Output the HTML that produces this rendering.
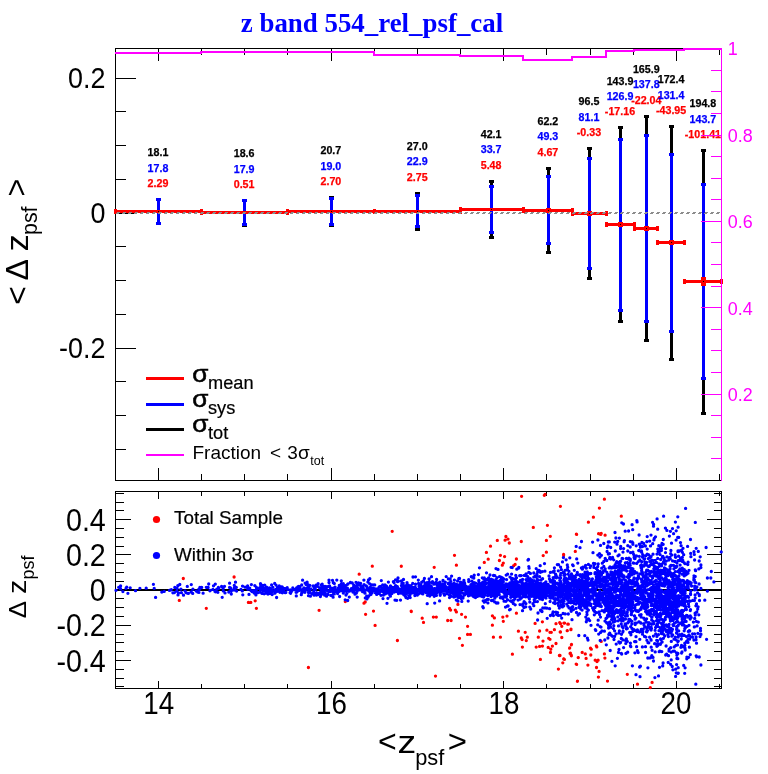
<!DOCTYPE html>
<html lang="en"><head><meta charset="utf-8"><title>z band 554_rel_psf_cal</title>
<style>html,body{margin:0;padding:0;background:#fff}svg{display:block}text{font-family:'Liberation Sans', Arial, Helvetica, sans-serif;}</style></head><body>
<svg width="768" height="774" viewBox="0 0 768 774">
<rect width="768" height="774" fill="#fff"/>
<g shape-rendering="crispEdges">
<rect x="115" y="48" width="607" height="1" fill="#000"/>
<rect x="115" y="480" width="607" height="1" fill="#000"/>
<rect x="115" y="48" width="1" height="433" fill="#000"/>
<rect x="721" y="48" width="1" height="433" fill="#000"/>
<rect x="158" y="48" width="1" height="13" fill="#000"/>
<rect x="158" y="468" width="1" height="13" fill="#000"/>
<rect x="201" y="48" width="1" height="7" fill="#000"/>
<rect x="201" y="474" width="1" height="7" fill="#000"/>
<rect x="244" y="48" width="1" height="7" fill="#000"/>
<rect x="244" y="474" width="1" height="7" fill="#000"/>
<rect x="287" y="48" width="1" height="7" fill="#000"/>
<rect x="287" y="474" width="1" height="7" fill="#000"/>
<rect x="331" y="48" width="1" height="13" fill="#000"/>
<rect x="331" y="468" width="1" height="13" fill="#000"/>
<rect x="374" y="48" width="1" height="7" fill="#000"/>
<rect x="374" y="474" width="1" height="7" fill="#000"/>
<rect x="417" y="48" width="1" height="7" fill="#000"/>
<rect x="417" y="474" width="1" height="7" fill="#000"/>
<rect x="460" y="48" width="1" height="7" fill="#000"/>
<rect x="460" y="474" width="1" height="7" fill="#000"/>
<rect x="503" y="48" width="1" height="13" fill="#000"/>
<rect x="503" y="468" width="1" height="13" fill="#000"/>
<rect x="546" y="48" width="1" height="7" fill="#000"/>
<rect x="546" y="474" width="1" height="7" fill="#000"/>
<rect x="590" y="48" width="1" height="7" fill="#000"/>
<rect x="590" y="474" width="1" height="7" fill="#000"/>
<rect x="633" y="48" width="1" height="7" fill="#000"/>
<rect x="633" y="474" width="1" height="7" fill="#000"/>
<rect x="676" y="48" width="1" height="13" fill="#000"/>
<rect x="676" y="468" width="1" height="13" fill="#000"/>
<rect x="719" y="48" width="1" height="7" fill="#000"/>
<rect x="719" y="474" width="1" height="7" fill="#000"/>
<rect x="115" y="449" width="11" height="1" fill="#000"/>
<rect x="115" y="415" width="11" height="1" fill="#000"/>
<rect x="115" y="381" width="11" height="1" fill="#000"/>
<rect x="115" y="348" width="21" height="1" fill="#000"/>
<rect x="115" y="314" width="11" height="1" fill="#000"/>
<rect x="115" y="280" width="11" height="1" fill="#000"/>
<rect x="115" y="246" width="11" height="1" fill="#000"/>
<rect x="115" y="213" width="21" height="1" fill="#000"/>
<rect x="115" y="179" width="11" height="1" fill="#000"/>
<rect x="115" y="145" width="11" height="1" fill="#000"/>
<rect x="115" y="111" width="11" height="1" fill="#000"/>
<rect x="115" y="78" width="21" height="1" fill="#000"/>
</g>
<g shape-rendering="crispEdges">
<rect x="157" y="199" width="3" height="25" fill="#000"/>
<rect x="156" y="198" width="5" height="3" fill="#000"/>
<rect x="156" y="222" width="5" height="3" fill="#000"/>
<rect x="243" y="200" width="3" height="26" fill="#000"/>
<rect x="242" y="199" width="5" height="3" fill="#000"/>
<rect x="242" y="224" width="5" height="3" fill="#000"/>
<rect x="330" y="197" width="3" height="29" fill="#000"/>
<rect x="329" y="196" width="5" height="3" fill="#000"/>
<rect x="329" y="224" width="5" height="3" fill="#000"/>
<rect x="416" y="193" width="3" height="37" fill="#000"/>
<rect x="415" y="192" width="5" height="3" fill="#000"/>
<rect x="415" y="228" width="5" height="3" fill="#000"/>
<rect x="490" y="181" width="3" height="57" fill="#000"/>
<rect x="489" y="180" width="5" height="3" fill="#000"/>
<rect x="489" y="236" width="5" height="3" fill="#000"/>
<rect x="547" y="168" width="3" height="85" fill="#000"/>
<rect x="546" y="167" width="5" height="3" fill="#000"/>
<rect x="546" y="251" width="5" height="3" fill="#000"/>
<rect x="588" y="148" width="3" height="131" fill="#000"/>
<rect x="587" y="147" width="5" height="3" fill="#000"/>
<rect x="587" y="277" width="5" height="3" fill="#000"/>
<rect x="619" y="127" width="3" height="195" fill="#000"/>
<rect x="618" y="126" width="5" height="3" fill="#000"/>
<rect x="618" y="320" width="5" height="3" fill="#000"/>
<rect x="645" y="116" width="3" height="225" fill="#000"/>
<rect x="644" y="115" width="5" height="3" fill="#000"/>
<rect x="644" y="339" width="5" height="3" fill="#000"/>
<rect x="670" y="126" width="3" height="234" fill="#000"/>
<rect x="669" y="125" width="5" height="3" fill="#000"/>
<rect x="669" y="358" width="5" height="3" fill="#000"/>
<rect x="702" y="150" width="3" height="264" fill="#000"/>
<rect x="701" y="149" width="5" height="3" fill="#000"/>
<rect x="701" y="412" width="5" height="3" fill="#000"/>
<rect x="157" y="199" width="3" height="25" fill="#00f"/>
<rect x="156" y="198" width="5" height="3" fill="#00f"/>
<rect x="156" y="222" width="5" height="3" fill="#00f"/>
<rect x="243" y="200" width="3" height="25" fill="#00f"/>
<rect x="242" y="199" width="5" height="3" fill="#00f"/>
<rect x="242" y="223" width="5" height="3" fill="#00f"/>
<rect x="330" y="198" width="3" height="27" fill="#00f"/>
<rect x="329" y="197" width="5" height="3" fill="#00f"/>
<rect x="329" y="223" width="5" height="3" fill="#00f"/>
<rect x="416" y="195" width="3" height="32" fill="#00f"/>
<rect x="415" y="194" width="5" height="3" fill="#00f"/>
<rect x="415" y="225" width="5" height="3" fill="#00f"/>
<rect x="490" y="186" width="3" height="47" fill="#00f"/>
<rect x="489" y="185" width="5" height="3" fill="#00f"/>
<rect x="489" y="231" width="5" height="3" fill="#00f"/>
<rect x="547" y="176" width="3" height="68" fill="#00f"/>
<rect x="546" y="175" width="5" height="3" fill="#00f"/>
<rect x="546" y="242" width="5" height="3" fill="#00f"/>
<rect x="588" y="158" width="3" height="111" fill="#00f"/>
<rect x="587" y="157" width="5" height="3" fill="#00f"/>
<rect x="587" y="267" width="5" height="3" fill="#00f"/>
<rect x="619" y="139" width="3" height="172" fill="#00f"/>
<rect x="618" y="138" width="5" height="3" fill="#00f"/>
<rect x="618" y="309" width="5" height="3" fill="#00f"/>
<rect x="645" y="135" width="3" height="187" fill="#00f"/>
<rect x="644" y="134" width="5" height="3" fill="#00f"/>
<rect x="644" y="320" width="5" height="3" fill="#00f"/>
<rect x="670" y="154" width="3" height="178" fill="#00f"/>
<rect x="669" y="153" width="5" height="3" fill="#00f"/>
<rect x="669" y="330" width="5" height="3" fill="#00f"/>
<rect x="702" y="184" width="3" height="195" fill="#00f"/>
<rect x="701" y="183" width="5" height="3" fill="#00f"/>
<rect x="701" y="377" width="5" height="3" fill="#00f"/>
<rect x="115" y="210" width="87" height="3" fill="#f00"/>
<rect x="114" y="209" width="3" height="5" fill="#f00"/>
<rect x="200" y="209" width="3" height="5" fill="#f00"/>
<rect x="158" y="211" width="1" height="1" fill="#000"/>
<rect x="201" y="211" width="87" height="3" fill="#f00"/>
<rect x="200" y="210" width="3" height="5" fill="#f00"/>
<rect x="286" y="210" width="3" height="5" fill="#f00"/>
<rect x="244" y="212" width="1" height="1" fill="#000"/>
<rect x="287" y="210" width="88" height="3" fill="#f00"/>
<rect x="286" y="209" width="3" height="5" fill="#f00"/>
<rect x="373" y="209" width="3" height="5" fill="#f00"/>
<rect x="331" y="211" width="1" height="1" fill="#000"/>
<rect x="374" y="210" width="87" height="3" fill="#f00"/>
<rect x="373" y="209" width="3" height="5" fill="#f00"/>
<rect x="459" y="209" width="3" height="5" fill="#f00"/>
<rect x="417" y="211" width="1" height="1" fill="#000"/>
<rect x="460" y="208" width="64" height="3" fill="#f00"/>
<rect x="459" y="207" width="3" height="5" fill="#f00"/>
<rect x="522" y="207" width="3" height="5" fill="#f00"/>
<rect x="491" y="209" width="1" height="1" fill="#000"/>
<rect x="523" y="209" width="50" height="3" fill="#f00"/>
<rect x="522" y="208" width="3" height="5" fill="#f00"/>
<rect x="571" y="208" width="3" height="5" fill="#f00"/>
<rect x="546" y="208" width="5" height="5" fill="#f00"/>
<rect x="548" y="210" width="1" height="1" fill="#000"/>
<rect x="572" y="212" width="35" height="3" fill="#f00"/>
<rect x="571" y="211" width="3" height="5" fill="#f00"/>
<rect x="605" y="211" width="3" height="5" fill="#f00"/>
<rect x="587" y="211" width="5" height="5" fill="#f00"/>
<rect x="589" y="213" width="1" height="1" fill="#000"/>
<rect x="606" y="223" width="29" height="3" fill="#f00"/>
<rect x="605" y="222" width="3" height="5" fill="#f00"/>
<rect x="633" y="222" width="3" height="5" fill="#f00"/>
<rect x="618" y="222" width="5" height="5" fill="#f00"/>
<rect x="620" y="224" width="1" height="1" fill="#000"/>
<rect x="634" y="227" width="24" height="3" fill="#f00"/>
<rect x="633" y="226" width="3" height="5" fill="#f00"/>
<rect x="656" y="226" width="3" height="5" fill="#f00"/>
<rect x="644" y="226" width="5" height="5" fill="#f00"/>
<rect x="646" y="228" width="1" height="1" fill="#000"/>
<rect x="657" y="241" width="28" height="3" fill="#f00"/>
<rect x="656" y="240" width="3" height="5" fill="#f00"/>
<rect x="683" y="240" width="3" height="5" fill="#f00"/>
<rect x="669" y="240" width="5" height="5" fill="#f00"/>
<rect x="671" y="242" width="1" height="1" fill="#000"/>
<rect x="684" y="280" width="38" height="3" fill="#f00"/>
<rect x="683" y="279" width="3" height="5" fill="#f00"/>
<rect x="720" y="279" width="3" height="5" fill="#f00"/>
<rect x="701" y="277" width="5" height="9" fill="#f00"/>
<rect x="703" y="281" width="1" height="1" fill="#000"/>
</g>
<g shape-rendering="crispEdges" fill="#8c8c8c">
<rect x="116" y="213" width="3" height="1"/><rect x="117" y="212" width="3" height="1"/>
<rect x="122" y="213" width="3" height="1"/><rect x="123" y="212" width="3" height="1"/>
<rect x="128" y="213" width="3" height="1"/><rect x="129" y="212" width="3" height="1"/>
<rect x="134" y="213" width="3" height="1"/><rect x="135" y="212" width="3" height="1"/>
<rect x="140" y="213" width="3" height="1"/><rect x="141" y="212" width="3" height="1"/>
<rect x="146" y="213" width="3" height="1"/><rect x="147" y="212" width="3" height="1"/>
<rect x="152" y="213" width="3" height="1"/><rect x="153" y="212" width="3" height="1"/>
<rect x="158" y="213" width="3" height="1"/><rect x="159" y="212" width="3" height="1"/>
<rect x="164" y="213" width="3" height="1"/><rect x="165" y="212" width="3" height="1"/>
<rect x="170" y="213" width="3" height="1"/><rect x="171" y="212" width="3" height="1"/>
<rect x="176" y="213" width="3" height="1"/><rect x="177" y="212" width="3" height="1"/>
<rect x="182" y="213" width="3" height="1"/><rect x="183" y="212" width="3" height="1"/>
<rect x="188" y="213" width="3" height="1"/><rect x="189" y="212" width="3" height="1"/>
<rect x="194" y="213" width="3" height="1"/><rect x="195" y="212" width="3" height="1"/>
<rect x="200" y="213" width="3" height="1"/><rect x="201" y="212" width="3" height="1"/>
<rect x="206" y="213" width="3" height="1"/><rect x="207" y="212" width="3" height="1"/>
<rect x="212" y="213" width="3" height="1"/><rect x="213" y="212" width="3" height="1"/>
<rect x="218" y="213" width="3" height="1"/><rect x="219" y="212" width="3" height="1"/>
<rect x="224" y="213" width="3" height="1"/><rect x="225" y="212" width="3" height="1"/>
<rect x="230" y="213" width="3" height="1"/><rect x="231" y="212" width="3" height="1"/>
<rect x="236" y="213" width="3" height="1"/><rect x="237" y="212" width="3" height="1"/>
<rect x="242" y="213" width="3" height="1"/><rect x="243" y="212" width="3" height="1"/>
<rect x="248" y="213" width="3" height="1"/><rect x="249" y="212" width="3" height="1"/>
<rect x="254" y="213" width="3" height="1"/><rect x="255" y="212" width="3" height="1"/>
<rect x="260" y="213" width="3" height="1"/><rect x="261" y="212" width="3" height="1"/>
<rect x="266" y="213" width="3" height="1"/><rect x="267" y="212" width="3" height="1"/>
<rect x="272" y="213" width="3" height="1"/><rect x="273" y="212" width="3" height="1"/>
<rect x="278" y="213" width="3" height="1"/><rect x="279" y="212" width="3" height="1"/>
<rect x="284" y="213" width="3" height="1"/><rect x="285" y="212" width="3" height="1"/>
<rect x="290" y="213" width="3" height="1"/><rect x="291" y="212" width="3" height="1"/>
<rect x="296" y="213" width="3" height="1"/><rect x="297" y="212" width="3" height="1"/>
<rect x="302" y="213" width="3" height="1"/><rect x="303" y="212" width="3" height="1"/>
<rect x="308" y="213" width="3" height="1"/><rect x="309" y="212" width="3" height="1"/>
<rect x="314" y="213" width="3" height="1"/><rect x="315" y="212" width="3" height="1"/>
<rect x="320" y="213" width="3" height="1"/><rect x="321" y="212" width="3" height="1"/>
<rect x="326" y="213" width="3" height="1"/><rect x="327" y="212" width="3" height="1"/>
<rect x="332" y="213" width="3" height="1"/><rect x="333" y="212" width="3" height="1"/>
<rect x="338" y="213" width="3" height="1"/><rect x="339" y="212" width="3" height="1"/>
<rect x="344" y="213" width="3" height="1"/><rect x="345" y="212" width="3" height="1"/>
<rect x="350" y="213" width="3" height="1"/><rect x="351" y="212" width="3" height="1"/>
<rect x="356" y="213" width="3" height="1"/><rect x="357" y="212" width="3" height="1"/>
<rect x="362" y="213" width="3" height="1"/><rect x="363" y="212" width="3" height="1"/>
<rect x="368" y="213" width="3" height="1"/><rect x="369" y="212" width="3" height="1"/>
<rect x="374" y="213" width="3" height="1"/><rect x="375" y="212" width="3" height="1"/>
<rect x="380" y="213" width="3" height="1"/><rect x="381" y="212" width="3" height="1"/>
<rect x="386" y="213" width="3" height="1"/><rect x="387" y="212" width="3" height="1"/>
<rect x="392" y="213" width="3" height="1"/><rect x="393" y="212" width="3" height="1"/>
<rect x="398" y="213" width="3" height="1"/><rect x="399" y="212" width="3" height="1"/>
<rect x="404" y="213" width="3" height="1"/><rect x="405" y="212" width="3" height="1"/>
<rect x="410" y="213" width="3" height="1"/><rect x="411" y="212" width="3" height="1"/>
<rect x="416" y="213" width="3" height="1"/><rect x="417" y="212" width="3" height="1"/>
<rect x="422" y="213" width="3" height="1"/><rect x="423" y="212" width="3" height="1"/>
<rect x="428" y="213" width="3" height="1"/><rect x="429" y="212" width="3" height="1"/>
<rect x="434" y="213" width="3" height="1"/><rect x="435" y="212" width="3" height="1"/>
<rect x="440" y="213" width="3" height="1"/><rect x="441" y="212" width="3" height="1"/>
<rect x="446" y="213" width="3" height="1"/><rect x="447" y="212" width="3" height="1"/>
<rect x="452" y="213" width="3" height="1"/><rect x="453" y="212" width="3" height="1"/>
<rect x="458" y="213" width="3" height="1"/><rect x="459" y="212" width="3" height="1"/>
<rect x="464" y="213" width="3" height="1"/><rect x="465" y="212" width="3" height="1"/>
<rect x="470" y="213" width="3" height="1"/><rect x="471" y="212" width="3" height="1"/>
<rect x="476" y="213" width="3" height="1"/><rect x="477" y="212" width="3" height="1"/>
<rect x="482" y="213" width="3" height="1"/><rect x="483" y="212" width="3" height="1"/>
<rect x="488" y="213" width="3" height="1"/><rect x="489" y="212" width="3" height="1"/>
<rect x="494" y="213" width="3" height="1"/><rect x="495" y="212" width="3" height="1"/>
<rect x="500" y="213" width="3" height="1"/><rect x="501" y="212" width="3" height="1"/>
<rect x="506" y="213" width="3" height="1"/><rect x="507" y="212" width="3" height="1"/>
<rect x="512" y="213" width="3" height="1"/><rect x="513" y="212" width="3" height="1"/>
<rect x="518" y="213" width="3" height="1"/><rect x="519" y="212" width="3" height="1"/>
<rect x="524" y="213" width="3" height="1"/><rect x="525" y="212" width="3" height="1"/>
<rect x="530" y="213" width="3" height="1"/><rect x="531" y="212" width="3" height="1"/>
<rect x="536" y="213" width="3" height="1"/><rect x="537" y="212" width="3" height="1"/>
<rect x="542" y="213" width="3" height="1"/><rect x="543" y="212" width="3" height="1"/>
<rect x="548" y="213" width="3" height="1"/><rect x="549" y="212" width="3" height="1"/>
<rect x="554" y="213" width="3" height="1"/><rect x="555" y="212" width="3" height="1"/>
<rect x="560" y="213" width="3" height="1"/><rect x="561" y="212" width="3" height="1"/>
<rect x="566" y="213" width="3" height="1"/><rect x="567" y="212" width="3" height="1"/>
<rect x="572" y="213" width="3" height="1"/><rect x="573" y="212" width="3" height="1"/>
<rect x="578" y="213" width="3" height="1"/><rect x="579" y="212" width="3" height="1"/>
<rect x="584" y="213" width="3" height="1"/><rect x="585" y="212" width="3" height="1"/>
<rect x="590" y="213" width="3" height="1"/><rect x="591" y="212" width="3" height="1"/>
<rect x="596" y="213" width="3" height="1"/><rect x="597" y="212" width="3" height="1"/>
<rect x="602" y="213" width="3" height="1"/><rect x="603" y="212" width="3" height="1"/>
<rect x="608" y="213" width="3" height="1"/><rect x="609" y="212" width="3" height="1"/>
<rect x="614" y="213" width="3" height="1"/><rect x="615" y="212" width="3" height="1"/>
<rect x="620" y="213" width="3" height="1"/><rect x="621" y="212" width="3" height="1"/>
<rect x="626" y="213" width="3" height="1"/><rect x="627" y="212" width="3" height="1"/>
<rect x="632" y="213" width="3" height="1"/><rect x="633" y="212" width="3" height="1"/>
<rect x="638" y="213" width="3" height="1"/><rect x="639" y="212" width="3" height="1"/>
<rect x="644" y="213" width="3" height="1"/><rect x="645" y="212" width="3" height="1"/>
<rect x="650" y="213" width="3" height="1"/><rect x="651" y="212" width="3" height="1"/>
<rect x="656" y="213" width="3" height="1"/><rect x="657" y="212" width="3" height="1"/>
<rect x="662" y="213" width="3" height="1"/><rect x="663" y="212" width="3" height="1"/>
<rect x="668" y="213" width="3" height="1"/><rect x="669" y="212" width="3" height="1"/>
<rect x="674" y="213" width="3" height="1"/><rect x="675" y="212" width="3" height="1"/>
<rect x="680" y="213" width="3" height="1"/><rect x="681" y="212" width="3" height="1"/>
<rect x="686" y="213" width="3" height="1"/><rect x="687" y="212" width="3" height="1"/>
<rect x="692" y="213" width="3" height="1"/><rect x="693" y="212" width="3" height="1"/>
<rect x="698" y="213" width="3" height="1"/><rect x="699" y="212" width="3" height="1"/>
<rect x="704" y="213" width="3" height="1"/><rect x="705" y="212" width="3" height="1"/>
<rect x="710" y="213" width="3" height="1"/><rect x="711" y="212" width="3" height="1"/>
<rect x="716" y="213" width="3" height="1"/><rect x="717" y="212" width="3" height="1"/>
</g>
<path d="M115,53 L201,53 L201,52 L287,52 L287,52 L374,52 L374,55 L460,55 L460,56 L523,56 L523,60 L572,60 L572,56.5 L606,56.5 L606,50.5 L634,50.5 L634,49.5 L657,49.5 L657,49.5 L684,49.5 L684,49 L721,49" fill="none" stroke="#f0f" stroke-width="2" stroke-linejoin="miter" shape-rendering="crispEdges"/>
<g font-size="10.7" font-weight="bold" text-anchor="middle" stroke-width="0.25">
<text x="158.0" y="156.3" fill="#000" stroke="#000">18.1</text>
<text x="158.0" y="171.7" fill="#00f" stroke="#00f">17.8</text>
<text x="158.0" y="187.1" fill="#f00" stroke="#f00">2.29</text>
<text x="244.1" y="157.2" fill="#000" stroke="#000">18.6</text>
<text x="244.1" y="172.6" fill="#00f" stroke="#00f">17.9</text>
<text x="244.1" y="188.0" fill="#f00" stroke="#f00">0.51</text>
<text x="330.9" y="154.3" fill="#000" stroke="#000">20.7</text>
<text x="330.9" y="169.7" fill="#00f" stroke="#00f">19.0</text>
<text x="330.9" y="185.1" fill="#f00" stroke="#f00">2.70</text>
<text x="417.2" y="150.0" fill="#000" stroke="#000">27.0</text>
<text x="417.2" y="165.4" fill="#00f" stroke="#00f">22.9</text>
<text x="417.2" y="180.8" fill="#f00" stroke="#f00">2.75</text>
<text x="491.1" y="138.0" fill="#000" stroke="#000">42.1</text>
<text x="491.1" y="153.4" fill="#00f" stroke="#00f">33.7</text>
<text x="491.1" y="168.8" fill="#f00" stroke="#f00">5.48</text>
<text x="547.9" y="125.0" fill="#000" stroke="#000">62.2</text>
<text x="547.9" y="140.4" fill="#00f" stroke="#00f">49.3</text>
<text x="547.9" y="155.8" fill="#f00" stroke="#f00">4.67</text>
<text x="589.0" y="105.2" fill="#000" stroke="#000">96.5</text>
<text x="589.0" y="120.6" fill="#00f" stroke="#00f">81.1</text>
<text x="589.0" y="136.0" fill="#f00" stroke="#f00">-0.33</text>
<text x="620.0" y="84.6" fill="#000" stroke="#000">143.9</text>
<text x="620.0" y="100.0" fill="#00f" stroke="#00f">126.9</text>
<text x="620.0" y="115.4" fill="#f00" stroke="#f00">-17.16</text>
<text x="646.3" y="73.0" fill="#000" stroke="#000">165.9</text>
<text x="646.3" y="88.4" fill="#00f" stroke="#00f">137.8</text>
<text x="646.3" y="103.8" fill="#f00" stroke="#f00">-22.04</text>
<text x="671.1" y="83.4" fill="#000" stroke="#000">172.4</text>
<text x="671.1" y="98.8" fill="#00f" stroke="#00f">131.4</text>
<text x="671.1" y="114.2" fill="#f00" stroke="#f00">-43.95</text>
<text x="702.9" y="107.1" fill="#000" stroke="#000">194.8</text>
<text x="702.9" y="122.5" fill="#00f" stroke="#00f">143.7</text>
<text x="702.9" y="137.9" fill="#f00" stroke="#f00">-101.41</text>
</g>
<g shape-rendering="crispEdges">
<rect x="721" y="48" width="1" height="433" fill="#f0f"/>
<rect x="711" y="458" width="11" height="1" fill="#f0f"/>
<rect x="711" y="437" width="11" height="1" fill="#f0f"/>
<rect x="711" y="415" width="11" height="1" fill="#f0f"/>
<rect x="701" y="394" width="21" height="1" fill="#f0f"/>
<rect x="711" y="372" width="11" height="1" fill="#f0f"/>
<rect x="711" y="350" width="11" height="1" fill="#f0f"/>
<rect x="711" y="329" width="11" height="1" fill="#f0f"/>
<rect x="701" y="307" width="21" height="1" fill="#f0f"/>
<rect x="711" y="286" width="11" height="1" fill="#f0f"/>
<rect x="711" y="264" width="11" height="1" fill="#f0f"/>
<rect x="711" y="242" width="11" height="1" fill="#f0f"/>
<rect x="701" y="221" width="21" height="1" fill="#f0f"/>
<rect x="711" y="199" width="11" height="1" fill="#f0f"/>
<rect x="711" y="178" width="11" height="1" fill="#f0f"/>
<rect x="711" y="156" width="11" height="1" fill="#f0f"/>
<rect x="701" y="135" width="21" height="1" fill="#f0f"/>
<rect x="711" y="113" width="11" height="1" fill="#f0f"/>
<rect x="711" y="91" width="11" height="1" fill="#f0f"/>
<rect x="711" y="70" width="11" height="1" fill="#f0f"/>
<rect x="701" y="48" width="21" height="1" fill="#f0f"/>
</g>
<text transform="translate(727.8,55.4) scale(0.95,1)" font-size="18.9" fill="#f0f">1</text>
<text transform="translate(727.8,142.3) scale(0.95,1)" font-size="18.9" fill="#f0f">0.8</text>
<text transform="translate(727.8,228.2) scale(0.95,1)" font-size="18.9" fill="#f0f">0.6</text>
<text transform="translate(727.8,314.6) scale(0.95,1)" font-size="18.9" fill="#f0f">0.4</text>
<text transform="translate(727.8,401.0) scale(0.95,1)" font-size="18.9" fill="#f0f">0.2</text>
<text transform="translate(105.4,88.4) scale(0.914,1)" font-size="29.4" text-anchor="end">0.2</text>
<text transform="translate(105.4,223.4) scale(0.914,1)" font-size="29.4" text-anchor="end">0</text>
<text transform="translate(105.4,358.4) scale(0.914,1)" font-size="29.4" text-anchor="end">-0.2</text>
<text x="372" y="31.5" font-size="26.9" font-weight="bold" fill="#00f" text-anchor="middle" style="font-family:'Liberation Serif', 'Times New Roman', serif">z band 554_rel_psf_cal</text>
<g transform="translate(28.4,305) rotate(-90)">
<text x="0.3" y="-0.6" font-size="32">&lt;</text>
<text x="24.5" y="0.0" font-size="32">Δ</text>
<text transform="translate(53.6,0.0) scale(1.08,1)" font-size="32">z</text>
<text x="70.0" y="8.9" font-size="21.4">psf</text>
<text x="108.6" y="-1.4" font-size="30.5">&gt;</text>
</g>
<g shape-rendering="crispEdges">
<rect x="146" y="377" width="38" height="3" fill="#f00"/>
<rect x="146" y="403" width="38" height="3" fill="#00f"/>
<rect x="146" y="428" width="38" height="3" fill="#000"/>
<rect x="146" y="454" width="38" height="2" fill="#f0f"/>
</g>
<text transform="translate(192.2,381.7) scale(1.08,1)" font-size="24.2" stroke="#000" stroke-width="0.55">σ</text>
<text x="208.0" y="388.8" font-size="18.2" stroke="#000" stroke-width="0.2">mean</text>
<text transform="translate(192.2,406.7) scale(1.08,1)" font-size="24.2" stroke="#000" stroke-width="0.55">σ</text>
<text x="208.0" y="413.8" font-size="18.2" stroke="#000" stroke-width="0.2">sys</text>
<text transform="translate(192.2,431.6) scale(1.08,1)" font-size="24.2" stroke="#000" stroke-width="0.55">σ</text>
<text x="208.0" y="438.7" font-size="18.2" stroke="#000" stroke-width="0.2">tot</text>
<text x="192.5" y="458.7" font-size="19">Fraction<tspan dx="8.9">&lt;</tspan><tspan dx="6.2">3σ</tspan></text>
<text x="310.3" y="465.2" font-size="12.5">tot</text>
<g shape-rendering="crispEdges">
<rect x="115" y="491" width="607" height="1" fill="#000"/>
<rect x="115" y="688" width="607" height="1" fill="#000"/>
<rect x="115" y="491" width="1" height="198" fill="#000"/>
<rect x="721" y="491" width="1" height="198" fill="#000"/>
<rect x="158" y="491" width="1" height="8" fill="#000"/>
<rect x="158" y="681" width="1" height="8" fill="#000"/>
<rect x="201" y="491" width="1" height="5" fill="#000"/>
<rect x="201" y="684" width="1" height="5" fill="#000"/>
<rect x="244" y="491" width="1" height="5" fill="#000"/>
<rect x="244" y="684" width="1" height="5" fill="#000"/>
<rect x="287" y="491" width="1" height="5" fill="#000"/>
<rect x="287" y="684" width="1" height="5" fill="#000"/>
<rect x="331" y="491" width="1" height="8" fill="#000"/>
<rect x="331" y="681" width="1" height="8" fill="#000"/>
<rect x="374" y="491" width="1" height="5" fill="#000"/>
<rect x="374" y="684" width="1" height="5" fill="#000"/>
<rect x="417" y="491" width="1" height="5" fill="#000"/>
<rect x="417" y="684" width="1" height="5" fill="#000"/>
<rect x="460" y="491" width="1" height="5" fill="#000"/>
<rect x="460" y="684" width="1" height="5" fill="#000"/>
<rect x="503" y="491" width="1" height="8" fill="#000"/>
<rect x="503" y="681" width="1" height="8" fill="#000"/>
<rect x="546" y="491" width="1" height="5" fill="#000"/>
<rect x="546" y="684" width="1" height="5" fill="#000"/>
<rect x="590" y="491" width="1" height="5" fill="#000"/>
<rect x="590" y="684" width="1" height="5" fill="#000"/>
<rect x="633" y="491" width="1" height="5" fill="#000"/>
<rect x="633" y="684" width="1" height="5" fill="#000"/>
<rect x="676" y="491" width="1" height="8" fill="#000"/>
<rect x="676" y="681" width="1" height="8" fill="#000"/>
<rect x="719" y="491" width="1" height="5" fill="#000"/>
<rect x="719" y="684" width="1" height="5" fill="#000"/>
<rect x="115" y="686" width="9" height="1" fill="#000"/>
<rect x="714" y="686" width="8" height="1" fill="#000"/>
<rect x="115" y="678" width="9" height="1" fill="#000"/>
<rect x="714" y="678" width="8" height="1" fill="#000"/>
<rect x="115" y="669" width="9" height="1" fill="#000"/>
<rect x="714" y="669" width="8" height="1" fill="#000"/>
<rect x="115" y="660" width="16" height="1" fill="#000"/>
<rect x="707" y="660" width="15" height="1" fill="#000"/>
<rect x="115" y="651" width="9" height="1" fill="#000"/>
<rect x="714" y="651" width="8" height="1" fill="#000"/>
<rect x="115" y="642" width="9" height="1" fill="#000"/>
<rect x="714" y="642" width="8" height="1" fill="#000"/>
<rect x="115" y="634" width="9" height="1" fill="#000"/>
<rect x="714" y="634" width="8" height="1" fill="#000"/>
<rect x="115" y="625" width="16" height="1" fill="#000"/>
<rect x="707" y="625" width="15" height="1" fill="#000"/>
<rect x="115" y="616" width="9" height="1" fill="#000"/>
<rect x="714" y="616" width="8" height="1" fill="#000"/>
<rect x="115" y="607" width="9" height="1" fill="#000"/>
<rect x="714" y="607" width="8" height="1" fill="#000"/>
<rect x="115" y="598" width="9" height="1" fill="#000"/>
<rect x="714" y="598" width="8" height="1" fill="#000"/>
<rect x="115" y="590" width="16" height="1" fill="#000"/>
<rect x="707" y="590" width="15" height="1" fill="#000"/>
<rect x="115" y="581" width="9" height="1" fill="#000"/>
<rect x="714" y="581" width="8" height="1" fill="#000"/>
<rect x="115" y="572" width="9" height="1" fill="#000"/>
<rect x="714" y="572" width="8" height="1" fill="#000"/>
<rect x="115" y="563" width="9" height="1" fill="#000"/>
<rect x="714" y="563" width="8" height="1" fill="#000"/>
<rect x="115" y="554" width="16" height="1" fill="#000"/>
<rect x="707" y="554" width="15" height="1" fill="#000"/>
<rect x="115" y="546" width="9" height="1" fill="#000"/>
<rect x="714" y="546" width="8" height="1" fill="#000"/>
<rect x="115" y="537" width="9" height="1" fill="#000"/>
<rect x="714" y="537" width="8" height="1" fill="#000"/>
<rect x="115" y="528" width="9" height="1" fill="#000"/>
<rect x="714" y="528" width="8" height="1" fill="#000"/>
<rect x="115" y="519" width="16" height="1" fill="#000"/>
<rect x="707" y="519" width="15" height="1" fill="#000"/>
<rect x="115" y="510" width="9" height="1" fill="#000"/>
<rect x="714" y="510" width="8" height="1" fill="#000"/>
<rect x="115" y="502" width="9" height="1" fill="#000"/>
<rect x="714" y="502" width="8" height="1" fill="#000"/>
<rect x="115" y="493" width="9" height="1" fill="#000"/>
<rect x="714" y="493" width="8" height="1" fill="#000"/>
<rect x="115" y="589" width="607" height="2" fill="#000"/>
</g>
<path d="M183.3 578.5h0M179.3 600.4h0M206.3 608.3h0M234.1 577.0h0M248.4 602.4h0M250.8 602.4h0M255.2 600.8h0M256.4 608.3h0M308.4 667.5h0M319.1 610.3h0M345.3 601.6h0M359.2 574.2h0M364.0 603.2h0M365.2 602.0h0M365.6 614.3h0M372.3 566.2h0M373.5 611.1h0M375.1 625.4h0M392.2 531.3h0M397.4 640.5h0M401.3 566.2h0M411.3 611.5h0M401.3 566.3h0M434.2 567.3h0M454.5 555.3h0M456.4 565.2h0M411.2 611.1h0M422.2 618.2h0M423.5 622.4h0M433.4 617.1h0M436.3 617.1h0M447.7 620.5h0M451.1 620.5h0M449.6 608.5h0M450.6 610.1h0M455.3 610.1h0M456.4 611.9h0M457.9 604.4h0M461.6 614.3h0M465.5 617.1h0M467.6 626.3h0M467.6 634.4h0M470.4 634.4h0M459.5 638.3h0M462.4 645.3h0M435.5 676.1h0M486.4 552.4h0M490.5 546.2h0M488.2 559.2h0M484.3 562.4h0M497.3 540.4h0M500.4 555.3h0M504.6 556.6h0M499.4 560.5h0M503.3 563.1h0M502.3 565.2h0M505.9 536.5h0M505.1 540.2h0M508.0 539.1h0M509.3 543.0h0M513.7 565.7h0M515.1 564.4h0M516.4 559.0h0M521.3 541.5h0M521.6 496.3h0M533.3 527.4h0M544.3 495.3h0M545.1 494.3h0M547.4 525.3h0M550.3 536.3h0M546.4 540.4h0M546.4 552.2h0M543.2 555.6h0M560.4 506.3h0M563.6 554.5h0M563.6 555.6h0M576.6 534.4h0M575.3 551.4h0M492.4 615.8h0M494.4 617.9h0M492.4 625.2h0M493.4 637.2h0M500.4 637.2h0M502.8 617.1h0M503.3 621.3h0M507.0 616.1h0M516.4 613.2h0M512.4 654.2h0M518.4 631.2h0M521.3 638.0h0M522.1 639.6h0M525.2 632.3h0M527.3 637.2h0M526.3 640.6h0M522.4 647.1h0M535.1 623.4h0M539.6 631.0h0M538.3 637.2h0M536.2 647.1h0M539.6 646.4h0M542.4 646.1h0M540.4 659.4h0M542.4 621.8h0M546.9 630.2h0M550.0 632.3h0M551.3 632.3h0M548.7 638.3h0M550.0 639.3h0M543.0 641.1h0M548.2 647.4h0M552.4 646.1h0M550.8 649.2h0M550.5 652.4h0M554.4 629.7h0M556.0 623.7h0M559.7 622.6h0M561.8 626.3h0M564.6 623.1h0M560.2 632.0h0M561.8 637.5h0M556.0 643.5h0M568.3 624.2h0M570.9 629.7h0M567.2 630.7h0M571.4 644.8h0M569.6 648.2h0M570.1 653.4h0M571.4 655.8h0M559.4 655.5h0M563.8 658.9h0M562.8 662.8h0M558.4 669.1h0M578.2 657.6h0M576.6 664.4h0M577.4 681.3h0M604.4 499.2h0M599.4 508.1h0M593.4 517.2h0M588.4 522.2h0M621.3 516.2h0M576.4 534.2h0M598.6 533.7h0M600.7 534.4h0M601.2 533.4h0M605.1 535.2h0M560.5 623.7h0M563.9 623.1h0M567.8 624.2h0M560.5 632.0h0M567.3 630.7h0M571.0 629.1h0M571.5 644.5h0M569.7 647.9h0M570.4 653.1h0M571.2 655.0h0M560.0 655.5h0M563.7 658.9h0M564.4 659.4h0M578.3 657.6h0M582.2 652.4h0M585.3 653.9h0M586.1 658.4h0M576.2 664.1h0M587.9 665.1h0M590.5 648.2h0M591.3 649.2h0M590.8 655.0h0M596.3 645.8h0M596.8 646.9h0M601.2 641.4h0M595.2 660.2h0M597.0 661.5h0M598.1 660.2h0M604.4 653.9h0M604.9 658.1h0M596.5 667.5h0M599.1 671.4h0M598.4 677.1h0M577.5 681.1h0M607.5 681.1h0M627.3 674.3h0M637.5 684.2h0M652.1 682.4h0M650.3 687.6h0" fill="none" stroke="#f00" stroke-width="3.3" stroke-linecap="round"/>
<path d="M139.9 588.3h0M126.7 587.2h0M154.2 588.3h0M130.2 587.8h0M153.4 584.3h0M118.7 587.3h0M146.2 588.2h0M120.6 586.0h0M126.0 588.3h0M155.6 597.4h0M122.9 591.6h0M135.5 590.7h0M120.6 588.9h0M127.9 593.3h0M174.4 592.6h0M185.0 590.8h0M191.1 592.0h0M186.4 592.8h0M187.3 586.4h0M192.9 589.2h0M170.8 589.9h0M180.9 589.1h0M199.3 589.6h0M161.8 592.1h0M181.4 592.7h0M169.5 590.4h0M201.5 587.7h0M185.9 592.6h0M191.3 584.6h0M199.9 587.5h0M178.0 594.9h0M201.7 587.4h0M198.9 589.1h0M172.9 592.8h0M164.2 591.4h0M176.8 591.2h0M177.8 585.7h0M196.2 591.1h0M197.7 592.0h0M171.3 589.6h0M179.8 584.5h0M177.1 588.5h0M198.9 592.4h0M178.5 593.0h0M174.8 587.5h0M192.7 593.4h0M183.5 595.2h0M188.3 593.4h0M215.3 584.1h0M242.5 586.1h0M228.8 592.1h0M225.0 592.9h0M223.1 588.5h0M215.0 591.4h0M234.7 588.7h0M235.5 582.2h0M210.2 590.5h0M223.3 590.9h0M234.2 590.0h0M231.3 590.0h0M206.3 587.3h0M215.5 591.8h0M229.8 591.3h0M222.2 597.3h0M240.9 589.4h0M231.3 594.1h0M212.9 589.4h0M242.3 590.9h0M224.5 586.3h0M203.1 593.2h0M218.4 587.4h0M213.5 585.8h0M229.6 583.2h0M234.2 588.1h0M223.3 587.4h0M242.8 594.8h0M208.7 584.0h0M234.3 585.5h0M209.9 590.8h0M230.5 588.0h0M229.6 587.5h0M236.3 587.4h0M221.6 586.5h0M217.9 592.3h0M231.1 591.3h0M232.2 590.2h0M208.1 587.5h0M236.6 591.1h0M216.8 589.2h0M218.8 588.3h0M273.5 591.1h0M263.5 588.6h0M257.9 592.7h0M282.7 591.5h0M252.0 591.5h0M283.6 589.7h0M274.7 583.5h0M282.4 592.8h0M268.7 592.9h0M266.6 587.2h0M253.0 590.7h0M278.0 591.0h0M285.3 592.7h0M268.0 594.0h0M274.9 589.9h0M281.4 587.0h0M264.1 588.5h0M287.2 587.7h0M254.2 593.1h0M260.6 587.1h0M274.9 593.2h0M263.4 590.5h0M254.8 585.6h0M276.0 585.1h0M285.0 588.6h0M279.2 585.9h0M262.6 586.5h0M260.6 584.7h0M279.8 592.3h0M265.4 588.8h0M262.2 593.1h0M261.8 587.5h0M284.0 591.2h0M264.7 585.1h0M247.3 587.5h0M270.2 593.4h0M276.6 597.5h0M255.9 594.9h0M259.0 588.5h0M265.2 589.1h0M268.8 588.9h0M251.1 590.7h0M280.7 587.3h0M262.7 585.3h0M259.5 588.0h0M282.6 590.3h0M264.4 588.8h0M272.9 587.3h0M277.5 587.7h0M266.5 591.9h0M279.6 591.7h0M287.6 589.5h0M272.5 590.7h0M257.0 592.4h0M247.8 589.3h0M276.3 589.1h0M259.8 592.1h0M254.6 590.7h0M276.7 591.5h0M266.4 589.3h0M264.2 593.8h0M268.0 589.3h0M279.2 588.0h0M267.6 592.1h0M245.0 587.2h0M266.0 593.1h0M249.0 594.4h0M285.8 592.5h0M269.3 587.9h0M256.4 587.5h0M282.3 590.1h0M251.4 584.6h0M282.1 586.8h0M261.1 585.1h0M270.3 591.1h0M260.5 583.6h0M269.0 592.1h0M272.0 591.6h0M256.5 589.4h0M281.3 588.8h0M279.5 589.6h0M261.6 587.7h0M260.7 590.2h0M249.7 588.7h0M264.4 588.8h0M247.6 585.9h0M270.6 589.1h0M271.5 592.5h0M265.1 590.9h0M262.0 593.4h0M270.7 589.0h0M278.9 589.7h0M271.6 585.0h0M280.3 587.5h0M249.7 588.1h0M261.5 587.1h0M270.9 591.6h0M266.6 589.2h0M283.8 588.5h0M272.1 594.6h0M316.0 585.2h0M301.3 594.7h0M328.7 591.7h0M314.7 594.7h0M294.3 589.4h0M325.0 586.3h0M306.1 584.6h0M316.7 592.9h0M326.8 586.6h0M296.8 589.0h0M329.9 589.8h0M330.6 591.3h0M309.8 585.3h0M297.4 587.3h0M296.3 595.9h0M301.7 585.0h0M321.9 587.1h0M324.1 589.6h0M329.3 591.0h0M324.2 591.8h0M323.0 586.4h0M310.2 592.5h0M300.0 588.0h0M308.5 592.5h0M304.9 592.3h0M323.3 589.4h0M318.2 586.6h0M298.1 586.6h0M301.9 590.7h0M329.0 582.5h0M321.3 585.0h0M310.8 588.8h0M304.5 589.0h0M296.1 592.3h0M292.7 589.8h0M315.4 586.9h0M315.4 589.4h0M296.8 587.6h0M303.1 589.1h0M297.1 591.3h0M307.9 584.7h0M323.2 590.3h0M299.4 589.5h0M321.2 589.6h0M298.6 589.4h0M325.1 593.1h0M310.4 596.2h0M321.5 592.9h0M304.8 591.3h0M309.5 591.4h0M312.8 593.9h0M313.5 592.4h0M323.2 593.9h0M321.3 592.9h0M292.8 588.0h0M329.0 580.1h0M309.4 585.7h0M319.7 588.2h0M325.3 589.3h0M314.3 588.1h0M307.1 582.2h0M302.8 592.1h0M316.4 593.0h0M291.4 591.5h0M298.9 586.5h0M310.6 589.2h0M320.4 596.6h0M302.4 591.6h0M327.9 586.6h0M329.5 585.8h0M327.9 594.5h0M304.0 591.6h0M290.1 592.7h0M308.4 587.3h0M305.8 589.7h0M330.9 595.4h0M305.1 583.1h0M299.5 590.3h0M318.0 594.5h0M302.6 580.2h0M312.3 593.9h0M298.1 588.8h0M307.8 589.0h0M303.9 587.9h0M308.5 595.7h0M326.2 589.2h0M302.1 590.6h0M306.2 589.9h0M330.4 587.6h0M313.1 586.0h0M296.1 588.9h0M290.2 589.8h0M306.8 588.2h0M323.0 592.3h0M316.5 595.0h0M324.1 590.8h0M325.1 588.7h0M314.1 595.2h0M318.1 583.6h0M294.4 589.6h0M324.7 595.2h0M326.3 589.1h0M307.9 588.2h0M321.4 590.3h0M304.4 589.6h0M296.8 592.0h0M321.0 594.5h0M296.4 588.4h0M290.6 593.3h0M327.5 590.8h0M322.2 584.2h0M314.0 592.9h0M326.5 596.2h0M313.8 590.4h0M301.7 593.1h0M326.3 590.0h0M304.5 588.4h0M320.4 592.5h0M319.1 593.2h0M297.7 591.0h0M352.9 592.0h0M367.9 582.1h0M340.6 590.0h0M354.4 590.0h0M370.9 594.4h0M356.4 593.0h0M346.4 588.0h0M353.7 585.1h0M359.7 585.1h0M335.1 587.1h0M337.6 593.1h0M345.2 599.8h0M373.1 588.5h0M335.8 590.0h0M369.4 588.5h0M338.2 591.6h0M354.8 586.9h0M369.4 591.2h0M349.4 591.2h0M342.5 583.6h0M336.8 580.1h0M362.4 586.4h0M337.9 591.0h0M339.4 591.3h0M363.9 580.1h0M346.1 589.3h0M369.8 583.9h0M345.2 587.2h0M368.5 588.7h0M333.3 582.7h0M347.7 600.5h0M341.4 583.6h0M371.7 589.2h0M333.2 588.1h0M345.9 590.3h0M349.3 597.1h0M348.6 590.2h0M360.9 588.9h0M365.0 593.2h0M358.6 583.0h0M366.9 598.9h0M337.9 591.7h0M357.2 597.1h0M354.8 592.7h0M362.9 590.5h0M354.4 586.1h0M356.0 582.3h0M351.3 588.7h0M368.7 590.0h0M359.8 589.8h0M343.3 590.6h0M368.5 579.9h0M366.9 587.0h0M361.3 586.7h0M370.8 594.1h0M333.4 591.4h0M334.7 589.2h0M334.3 583.6h0M333.7 590.5h0M356.9 587.7h0M369.6 588.3h0M364.1 584.7h0M338.7 588.2h0M333.5 594.0h0M344.1 588.2h0M365.9 589.9h0M372.1 592.1h0M358.0 588.2h0M367.6 590.0h0M357.7 590.2h0M341.6 588.6h0M339.3 585.3h0M351.0 590.0h0M359.1 589.5h0M341.2 586.5h0M371.9 589.1h0M371.0 590.8h0M334.9 587.8h0M344.1 588.8h0M347.2 589.3h0M335.7 591.4h0M352.2 582.9h0M370.0 590.4h0M332.5 580.3h0M363.4 588.9h0M363.2 590.8h0M346.9 593.3h0M347.1 590.6h0M352.5 590.7h0M345.2 590.9h0M345.5 588.5h0M347.4 589.9h0M367.9 589.3h0M371.9 592.9h0M353.0 589.2h0M362.7 587.4h0M360.6 589.9h0M372.1 591.3h0M342.6 585.2h0M350.4 582.5h0M331.5 589.8h0M340.8 589.4h0M370.2 587.4h0M362.4 589.2h0M362.6 591.7h0M365.3 597.9h0M370.7 587.9h0M353.3 587.5h0M356.1 588.4h0M339.6 596.5h0M368.0 597.3h0M333.9 588.6h0M341.5 589.9h0M369.8 578.7h0M360.6 583.5h0M350.6 590.0h0M351.5 589.2h0M348.0 584.0h0M353.8 589.6h0M343.3 593.0h0M333.1 597.2h0M337.6 593.6h0M344.4 588.5h0M361.6 590.0h0M374.2 589.6h0M357.6 589.6h0M343.3 583.7h0M352.4 588.9h0M345.4 585.7h0M334.3 593.9h0M345.3 587.3h0M333.0 591.9h0M356.9 585.2h0M357.2 587.8h0M340.7 590.5h0M347.5 584.3h0M366.3 585.8h0M370.3 593.1h0M364.1 591.3h0M342.8 591.2h0M363.2 587.3h0M355.0 594.2h0M339.7 589.2h0M347.4 588.1h0M366.7 596.1h0M357.4 591.0h0M334.2 583.4h0M344.8 588.3h0M338.4 587.8h0M346.0 595.0h0M368.8 595.9h0M340.1 590.8h0M336.8 590.0h0M346.4 589.3h0M364.5 592.4h0M341.3 580.8h0M373.0 585.0h0M341.7 586.5h0M357.3 585.0h0M371.3 584.8h0M380.6 587.0h0M405.6 592.0h0M392.7 587.3h0M401.4 585.6h0M391.9 590.7h0M396.8 586.9h0M408.4 585.1h0M388.3 592.9h0M383.0 598.6h0M406.7 588.7h0M417.3 589.7h0M379.5 591.8h0M386.0 593.1h0M409.5 589.4h0M395.0 600.1h0M387.9 598.3h0M406.0 586.5h0M398.6 589.1h0M401.5 589.3h0M415.1 586.9h0M414.7 590.9h0M414.5 587.7h0M407.0 582.6h0M416.7 589.8h0M415.2 590.3h0M409.7 586.8h0M386.5 586.2h0M393.4 587.9h0M382.5 588.4h0M393.4 581.7h0M412.9 592.4h0M385.1 593.9h0M410.0 588.1h0M376.7 594.4h0M388.8 588.7h0M405.7 587.9h0M389.1 589.8h0M383.1 591.8h0M412.2 592.9h0M385.1 593.8h0M385.5 588.9h0M412.8 588.0h0M407.0 584.7h0M404.5 585.9h0M385.7 589.6h0M388.4 582.1h0M390.4 596.2h0M406.4 591.0h0M385.3 587.4h0M406.7 590.6h0M382.9 587.7h0M406.9 584.7h0M414.8 591.3h0M414.9 587.2h0M413.4 587.6h0M410.2 597.6h0M398.0 577.9h0M385.7 588.8h0M399.0 591.8h0M395.5 579.9h0M383.5 595.1h0M415.6 584.2h0M381.4 591.0h0M415.3 590.9h0M397.2 589.0h0M391.8 590.7h0M390.5 585.8h0M393.5 587.6h0M415.5 587.9h0M403.8 594.8h0M407.6 592.4h0M389.8 594.9h0M391.4 592.3h0M399.3 591.4h0M414.7 590.2h0M378.4 592.0h0M401.8 593.0h0M403.5 585.8h0M378.8 592.3h0M379.2 593.6h0M385.5 591.3h0M409.0 588.1h0M398.4 581.2h0M405.0 591.6h0M405.7 590.7h0M393.0 588.9h0M377.0 593.8h0M404.4 590.6h0M378.8 591.5h0M403.5 579.4h0M390.2 588.5h0M385.7 589.4h0M393.6 589.3h0M394.0 589.5h0M406.1 597.7h0M404.5 588.0h0M401.4 581.0h0M407.7 588.6h0M404.0 592.6h0M398.2 589.1h0M405.4 591.1h0M413.0 577.0h0M402.7 591.5h0M415.7 592.5h0M398.4 592.0h0M415.1 587.7h0M385.8 591.7h0M417.4 595.1h0M409.9 591.1h0M407.7 598.3h0M378.8 590.5h0M400.5 600.1h0M415.5 576.8h0M413.0 590.5h0M394.3 592.0h0M375.0 590.7h0M397.6 581.7h0M380.2 586.3h0M374.5 588.6h0M415.6 592.7h0M393.6 590.1h0M397.2 579.7h0M410.2 593.9h0M380.8 589.9h0M409.1 588.4h0M408.3 587.8h0M416.2 589.9h0M391.5 590.5h0M415.5 589.1h0M376.6 591.3h0M405.4 596.3h0M404.9 590.0h0M375.7 590.1h0M378.3 589.2h0M397.7 590.5h0M388.1 589.2h0M378.9 591.6h0M416.9 591.6h0M404.6 588.4h0M379.2 586.8h0M391.9 593.6h0M398.4 593.5h0M397.0 587.3h0M407.9 589.7h0M402.2 592.3h0M408.8 595.6h0M403.5 589.1h0M413.2 589.4h0M408.4 591.2h0M382.8 589.8h0M378.0 592.0h0M410.6 591.8h0M416.9 589.2h0M411.2 586.4h0M392.1 592.2h0M400.4 591.2h0M399.0 591.8h0M410.4 589.3h0M376.5 589.2h0M397.4 586.7h0M412.7 583.4h0M374.7 584.9h0M415.9 588.7h0M381.0 595.3h0M387.6 590.0h0M399.0 589.0h0M405.9 593.3h0M396.7 600.3h0M386.1 591.3h0M387.8 589.2h0M413.0 590.0h0M402.7 590.0h0M392.6 589.6h0M378.2 592.4h0M381.3 580.6h0M410.3 590.5h0M402.1 592.5h0M390.5 592.0h0M395.3 591.3h0M413.0 587.3h0M400.3 589.2h0M386.8 587.9h0M402.8 588.4h0M389.6 588.4h0M398.3 592.7h0M382.7 584.8h0M386.9 593.0h0M377.5 588.9h0M375.3 592.7h0M403.0 589.2h0M394.1 587.5h0M394.6 587.9h0M403.2 583.1h0M385.0 585.0h0M391.8 590.3h0M406.2 594.1h0M409.4 587.9h0M383.9 594.4h0M402.8 588.1h0M397.7 591.3h0M389.5 587.6h0M393.4 589.8h0M417.2 591.5h0M412.0 591.3h0M396.5 587.6h0M387.0 603.3h0M411.3 588.7h0M395.7 585.6h0M407.6 589.5h0M387.0 589.1h0M402.4 587.0h0M405.7 587.4h0M417.1 589.2h0M414.9 595.5h0M380.4 591.5h0M405.5 589.2h0M410.0 594.8h0M415.0 593.4h0M401.9 583.4h0M387.7 592.9h0M399.6 590.4h0M393.9 590.3h0M411.0 585.6h0M395.6 591.4h0M381.9 590.7h0M408.2 592.4h0M400.8 593.0h0M407.3 591.3h0M394.1 582.8h0M384.4 589.8h0M436.4 582.3h0M418.8 589.6h0M420.3 586.8h0M442.8 584.0h0M458.8 578.7h0M428.9 587.8h0M428.2 590.1h0M429.5 587.2h0M424.9 589.6h0M422.8 593.9h0M427.1 590.3h0M449.8 591.7h0M450.2 578.9h0M443.5 586.2h0M419.4 590.4h0M433.9 594.1h0M444.6 589.5h0M451.2 584.8h0M421.7 582.2h0M450.2 593.5h0M430.4 586.0h0M458.1 586.2h0M427.0 582.6h0M439.3 590.8h0M452.4 586.7h0M455.2 592.1h0M448.5 583.1h0M444.9 589.5h0M434.2 595.2h0M420.8 592.5h0M429.9 593.9h0M435.4 593.9h0M452.6 590.0h0M421.1 589.6h0M450.0 586.9h0M458.5 597.7h0M460.4 588.9h0M433.0 589.9h0M429.9 589.8h0M435.7 592.1h0M458.8 592.4h0M422.2 587.7h0M457.5 593.1h0M421.5 587.1h0M453.8 591.0h0M427.0 588.6h0M429.2 593.9h0M458.2 590.2h0M429.8 596.0h0M454.0 589.5h0M428.0 591.1h0M432.2 591.6h0M460.3 589.3h0M432.3 589.2h0M437.0 587.7h0M427.7 592.7h0M455.1 589.9h0M430.9 589.1h0M452.5 593.3h0M429.3 594.8h0M437.5 588.8h0M423.9 589.8h0M427.4 595.3h0M456.0 591.2h0M445.8 591.1h0M432.2 589.5h0M428.5 584.9h0M443.9 593.8h0M436.5 588.3h0M446.2 576.6h0M434.5 588.6h0M455.9 589.9h0M460.2 589.3h0M445.0 590.6h0M439.4 586.2h0M444.0 590.7h0M446.3 588.0h0M456.3 600.1h0M447.8 590.9h0M431.0 585.9h0M444.1 587.8h0M460.0 584.3h0M428.8 590.9h0M422.7 587.0h0M453.4 587.3h0M423.2 591.5h0M434.2 596.3h0M421.7 590.1h0M457.5 595.7h0M431.9 582.6h0M440.6 586.6h0M449.2 594.7h0M440.3 593.3h0M452.3 592.9h0M431.5 594.3h0M442.2 585.4h0M445.6 587.6h0M451.3 588.8h0M433.9 584.2h0M424.0 586.8h0M439.5 589.2h0M460.3 589.8h0M430.1 595.0h0M422.5 586.7h0M429.6 591.6h0M450.8 581.4h0M428.6 583.1h0M455.9 595.0h0M454.4 585.3h0M438.1 585.4h0M429.2 582.3h0M438.4 588.2h0M429.7 591.0h0M445.6 591.1h0M418.3 580.1h0M437.0 584.9h0M431.5 587.2h0M453.1 591.9h0M459.5 594.3h0M448.3 583.8h0M435.6 582.7h0M432.1 594.3h0M441.3 592.1h0M435.9 592.4h0M428.4 590.0h0M435.5 591.1h0M429.4 586.4h0M454.9 588.1h0M437.0 593.2h0M445.7 587.6h0M434.7 603.1h0M456.3 596.0h0M443.9 585.2h0M445.4 586.8h0M457.5 593.1h0M458.0 601.2h0M459.5 578.5h0M434.7 593.8h0M445.1 589.0h0M440.3 594.4h0M450.0 585.0h0M430.9 594.7h0M451.8 585.8h0M437.9 589.0h0M455.7 584.1h0M429.2 581.9h0M444.4 590.0h0M430.0 590.6h0M434.8 588.6h0M427.8 589.4h0M456.1 584.8h0M453.9 589.3h0M440.6 591.4h0M424.8 585.2h0M436.4 595.4h0M456.8 589.7h0M454.8 591.2h0M431.1 590.4h0M425.1 588.0h0M453.6 592.0h0M449.4 584.4h0M430.1 591.7h0M424.7 590.1h0M444.5 595.2h0M460.3 597.1h0M457.1 589.9h0M447.3 591.8h0M460.5 582.1h0M455.8 596.2h0M444.3 589.3h0M445.3 582.2h0M419.0 586.1h0M457.2 590.4h0M418.5 593.9h0M436.7 584.1h0M427.2 603.7h0M438.5 587.9h0M450.3 587.5h0M439.3 591.5h0M423.7 591.6h0M441.3 587.8h0M440.4 591.2h0M438.5 587.0h0M437.6 588.7h0M452.1 584.5h0M432.5 581.6h0M429.1 579.0h0M456.2 592.5h0M443.0 580.5h0M420.9 584.9h0M451.6 576.1h0M429.0 584.0h0M436.6 579.5h0M449.9 592.0h0M446.7 590.3h0M458.3 594.5h0M445.3 589.5h0M447.5 588.1h0M452.5 585.3h0M432.0 587.9h0M448.0 591.4h0M446.8 589.9h0M426.8 589.0h0M434.0 592.6h0M426.3 583.1h0M426.0 585.5h0M430.0 590.1h0M437.3 590.7h0M442.4 585.0h0M459.7 588.2h0M423.8 588.7h0M438.9 584.2h0M456.1 590.4h0M453.9 583.3h0M442.4 590.7h0M457.2 591.7h0M451.2 596.3h0M427.2 589.7h0M458.5 594.9h0M460.2 596.1h0M448.4 578.9h0M444.6 584.5h0M425.8 592.6h0M420.1 592.9h0M422.8 591.1h0M433.1 592.6h0M437.3 589.6h0M439.7 587.7h0M460.6 589.1h0M456.4 591.0h0M443.7 584.0h0M439.8 591.4h0M456.0 590.4h0M436.2 582.8h0M458.0 588.2h0M449.5 597.6h0M457.6 581.0h0M457.3 584.6h0M438.9 590.2h0M459.0 590.2h0M458.8 588.2h0M449.9 595.7h0M455.5 596.3h0M443.1 586.6h0M438.7 585.2h0M454.4 580.1h0M435.9 592.7h0M434.1 589.3h0M450.6 589.7h0M421.6 593.3h0M418.6 583.5h0M433.2 590.0h0M424.4 578.4h0M433.6 589.7h0M450.7 588.9h0M444.1 585.1h0M457.4 591.6h0M450.4 583.6h0M457.2 588.9h0M441.7 584.7h0M454.7 596.5h0M453.9 597.0h0M455.2 589.4h0M423.5 580.9h0M443.9 589.4h0M419.7 587.7h0M431.2 587.8h0M453.4 596.0h0M436.6 583.3h0M458.4 597.6h0M445.5 586.3h0M440.3 593.3h0M447.9 587.6h0M453.3 593.7h0M434.8 594.3h0M455.2 586.4h0M454.0 586.4h0M425.0 583.2h0M447.0 593.7h0M429.9 586.8h0M435.8 594.6h0M453.4 591.2h0M428.4 589.7h0M439.9 582.2h0M436.8 593.4h0M452.4 588.9h0M446.8 591.9h0M460.1 586.8h0M423.5 587.2h0M451.7 592.3h0M440.2 595.3h0M439.4 583.4h0M437.7 583.1h0M440.1 586.5h0M426.2 586.9h0M431.5 576.7h0M432.2 589.7h0M437.9 588.8h0M431.1 586.4h0M439.6 600.9h0M462.4 584.2h0M467.8 587.5h0M479.8 587.7h0M498.4 583.3h0M473.8 584.4h0M487.9 602.9h0M495.4 595.8h0M462.0 588.3h0M491.3 584.9h0M485.6 590.3h0M478.3 589.5h0M473.1 592.9h0M483.6 597.0h0M479.4 595.2h0M484.5 585.1h0M485.0 593.6h0M475.5 583.1h0M489.0 582.6h0M483.2 600.8h0M494.7 592.0h0M473.2 596.3h0M498.0 569.4h0M469.7 589.5h0M483.9 579.3h0M471.3 576.7h0M482.0 586.3h0M499.1 594.1h0M472.6 586.0h0M482.4 587.6h0M496.0 568.6h0M502.5 597.2h0M503.8 590.3h0M464.7 583.9h0M486.9 583.1h0M480.7 589.1h0M503.7 579.2h0M503.7 584.8h0M479.2 592.4h0M497.0 583.2h0M471.8 588.9h0M480.0 592.9h0M496.4 603.0h0M475.1 589.5h0M466.3 589.0h0M491.2 594.0h0M480.2 591.1h0M495.2 582.6h0M479.5 567.8h0M495.7 594.0h0M494.5 584.5h0M479.9 591.2h0M502.4 590.9h0M502.2 591.6h0M501.2 587.9h0M463.0 586.2h0M470.6 587.8h0M489.0 580.2h0M487.8 590.8h0M488.2 589.5h0M494.4 596.2h0M479.2 587.1h0M481.9 593.1h0M477.0 594.3h0M491.7 586.6h0M493.5 595.7h0M473.8 578.0h0M496.2 580.0h0M470.7 589.7h0M468.2 593.7h0M464.3 583.7h0M488.3 587.3h0M488.6 593.9h0M497.5 586.2h0M489.8 594.1h0M477.3 587.1h0M461.3 592.1h0M476.6 595.8h0M498.4 588.9h0M493.4 588.1h0M482.6 591.4h0M495.0 593.8h0M491.6 592.7h0M473.7 595.9h0M478.8 580.9h0M499.5 581.5h0M493.9 587.8h0M473.5 585.8h0M464.6 594.9h0M485.0 590.0h0M483.2 588.3h0M480.3 594.8h0M483.0 593.1h0M496.9 591.1h0M475.2 595.8h0M496.5 585.9h0M488.6 589.9h0M473.1 586.6h0M503.7 585.5h0M460.8 596.0h0M492.6 590.7h0M478.2 593.4h0M461.1 582.3h0M473.7 586.6h0M483.4 590.3h0M475.9 590.2h0M471.9 593.5h0M472.2 584.6h0M485.8 588.6h0M491.6 589.9h0M498.6 591.5h0M488.3 591.3h0M484.3 577.9h0M489.9 592.1h0M497.2 594.0h0M491.4 592.2h0M502.9 598.6h0M488.4 589.6h0M484.5 586.0h0M499.2 594.5h0M475.8 592.3h0M468.8 581.4h0M499.2 587.4h0M494.3 593.7h0M465.8 591.7h0M482.8 606.7h0M489.4 589.0h0M491.0 596.6h0M485.1 582.5h0M461.8 601.4h0M495.8 588.1h0M494.5 581.5h0M482.6 582.4h0M470.5 587.7h0M469.2 592.1h0M490.3 588.6h0M501.0 597.2h0M482.5 596.7h0M475.5 586.4h0M485.6 591.9h0M470.9 584.7h0M468.7 594.1h0M470.5 588.6h0M493.8 593.4h0M495.7 593.7h0M489.6 594.1h0M498.4 590.4h0M463.9 587.3h0M469.0 588.9h0M486.1 583.7h0M466.2 586.3h0M484.4 586.6h0M490.2 591.4h0M501.3 579.4h0M480.3 595.9h0M486.7 591.0h0M486.1 588.4h0M467.6 590.6h0M491.6 579.4h0M499.1 583.3h0M499.2 585.4h0M478.9 591.7h0M494.9 582.4h0M487.8 595.5h0M503.7 578.8h0M474.8 597.2h0M483.3 607.8h0M470.0 590.1h0M477.7 584.0h0M494.2 595.5h0M464.6 583.1h0M472.3 584.4h0M485.2 601.6h0M477.1 588.9h0M500.9 577.1h0M469.1 589.7h0M475.5 597.5h0M473.4 588.7h0M485.0 581.2h0M465.3 593.5h0M492.9 585.3h0M470.8 594.9h0M488.4 591.1h0M489.0 578.6h0M491.2 587.9h0M472.5 591.5h0M493.9 589.1h0M463.0 597.0h0M491.5 600.5h0M472.5 584.1h0M477.4 596.4h0M490.0 575.0h0M472.6 584.3h0M474.8 587.5h0M474.6 590.9h0M478.8 580.3h0M492.7 592.4h0M498.6 593.6h0M476.9 590.0h0M487.7 591.5h0M492.8 600.5h0M467.5 589.1h0M503.8 589.4h0M471.8 577.0h0M495.2 587.9h0M502.2 588.9h0M497.3 591.8h0M485.5 600.5h0M485.1 588.1h0M489.1 584.3h0M488.9 586.2h0M461.3 598.5h0M499.8 580.6h0M495.6 583.5h0M480.5 589.4h0M490.2 586.7h0M495.7 589.7h0M495.0 585.5h0M480.1 589.1h0M496.0 579.4h0M477.2 590.5h0M486.5 589.8h0M503.5 587.4h0M478.5 592.2h0M480.9 586.9h0M474.0 586.8h0M479.3 584.0h0M490.7 593.6h0M501.7 584.9h0M474.1 582.7h0M481.2 584.8h0M470.0 592.3h0M480.7 592.7h0M474.2 575.2h0M487.2 587.0h0M481.3 588.8h0M477.8 588.8h0M473.3 583.0h0M463.9 580.3h0M477.0 593.5h0M473.6 590.6h0M494.8 598.2h0M494.7 601.9h0M498.4 584.4h0M475.3 591.1h0M464.0 581.4h0M497.5 590.7h0M471.6 586.5h0M490.8 580.8h0M483.4 588.9h0M480.2 592.1h0M464.7 587.3h0M489.2 591.5h0M472.7 576.9h0M500.3 586.6h0M501.7 582.5h0M497.9 603.0h0M480.4 583.7h0M479.3 589.9h0M494.8 575.6h0M498.2 582.4h0M483.8 594.6h0M483.5 595.6h0M479.0 586.7h0M470.2 590.7h0M486.5 572.8h0M500.9 590.3h0M471.4 589.5h0M497.6 589.9h0M475.2 591.5h0M492.5 585.5h0M494.3 590.0h0M500.3 597.8h0M463.2 586.0h0M487.7 592.5h0M480.4 591.2h0M503.2 591.7h0M502.9 586.7h0M496.4 592.8h0M502.8 588.2h0M499.3 592.1h0M477.6 586.4h0M478.8 587.3h0M489.7 588.9h0M481.1 593.9h0M496.8 596.0h0M483.5 584.9h0M482.1 590.8h0M488.2 582.8h0M463.1 587.4h0M474.9 588.3h0M498.3 594.3h0M467.6 591.8h0M490.7 584.7h0M493.8 596.0h0M502.0 583.1h0M493.5 575.5h0M503.3 581.8h0M496.9 577.7h0M466.2 592.0h0M488.3 599.4h0M503.6 596.7h0M471.9 581.2h0M471.7 595.0h0M498.7 590.7h0M468.9 590.7h0M489.9 594.6h0M475.5 595.4h0M495.0 587.6h0M500.6 584.7h0M483.5 586.6h0M484.3 602.2h0M503.4 589.2h0M462.5 593.0h0M486.3 579.4h0M491.5 582.2h0M495.2 588.5h0M483.9 586.6h0M473.2 587.7h0M468.7 581.6h0M494.5 584.2h0M491.1 579.4h0M493.2 587.4h0M469.6 591.6h0M465.8 591.8h0M492.8 579.9h0M501.8 584.4h0M482.3 577.8h0M498.6 591.4h0M470.1 590.5h0M494.0 583.1h0M476.5 588.7h0M463.8 589.6h0M495.5 591.7h0M494.1 587.2h0M494.9 589.1h0M481.9 591.6h0M474.3 590.9h0M497.5 588.6h0M496.3 586.8h0M477.6 587.9h0M496.1 588.0h0M491.8 588.7h0M496.4 584.7h0M468.4 595.8h0M496.1 589.7h0M485.3 595.0h0M463.0 598.1h0M488.6 577.8h0M476.9 586.3h0M503.8 591.4h0M467.9 588.0h0M484.2 589.8h0M487.3 599.3h0M483.8 590.2h0M498.7 588.7h0M469.3 595.4h0M468.2 601.1h0M480.2 585.7h0M476.3 587.1h0M485.6 589.7h0M494.9 596.4h0M496.6 582.7h0M479.7 590.6h0M468.7 579.7h0M473.7 588.9h0M466.6 593.7h0M502.1 577.6h0M482.3 585.7h0M466.8 587.0h0M470.9 586.5h0M497.3 581.3h0M493.5 590.5h0M474.3 593.5h0M488.3 586.6h0M478.4 574.6h0M468.7 586.9h0M499.5 576.6h0M491.4 591.8h0M481.4 589.4h0M486.5 587.9h0M525.9 603.6h0M540.5 589.9h0M505.0 594.2h0M536.7 589.2h0M516.3 582.9h0M543.2 585.6h0M539.1 597.8h0M542.5 599.6h0M520.1 581.9h0M511.0 585.5h0M516.1 588.3h0M539.6 576.7h0M522.7 593.2h0M519.5 596.5h0M525.4 596.8h0M534.0 584.6h0M527.5 591.0h0M528.6 596.3h0M519.8 587.4h0M537.4 593.9h0M527.0 592.9h0M535.6 588.2h0M539.6 591.2h0M524.0 586.0h0M540.4 597.5h0M543.1 587.0h0M510.6 593.8h0M544.8 592.3h0M518.3 587.7h0M525.3 587.5h0M512.4 593.5h0M515.5 592.0h0M534.1 592.4h0M541.5 590.6h0M526.2 585.0h0M538.7 584.0h0M515.2 604.8h0M544.3 583.4h0M531.2 594.6h0M528.1 581.0h0M529.2 594.1h0M510.7 591.0h0M531.6 592.5h0M504.1 593.1h0M529.8 583.1h0M537.1 591.6h0M537.9 588.0h0M511.7 579.5h0M539.1 570.3h0M531.8 586.5h0M521.3 598.0h0M540.5 586.1h0M542.8 608.0h0M540.9 596.8h0M508.2 586.7h0M520.7 587.0h0M530.0 587.1h0M522.9 605.7h0M513.8 600.2h0M534.0 580.6h0M510.0 583.0h0M526.1 593.2h0M505.3 592.0h0M520.0 594.0h0M538.1 597.2h0M534.4 589.1h0M539.6 583.7h0M527.6 590.9h0M542.9 593.1h0M520.3 593.8h0M511.1 595.8h0M511.0 590.3h0M533.8 594.5h0M539.5 586.7h0M513.5 582.5h0M535.7 586.5h0M528.1 578.4h0M524.4 592.4h0M523.4 583.6h0M506.0 584.0h0M532.7 593.1h0M530.9 594.3h0M524.4 585.9h0M530.2 592.3h0M529.5 587.8h0M539.4 593.7h0M524.9 590.6h0M521.7 587.1h0M523.4 595.5h0M542.1 578.9h0M531.6 580.0h0M515.8 589.1h0M540.6 583.9h0M522.1 590.3h0M535.5 584.1h0M535.2 591.2h0M540.2 565.7h0M536.8 590.8h0M546.2 589.2h0M518.0 588.4h0M505.6 593.4h0M530.4 573.4h0M514.9 598.8h0M530.0 589.7h0M540.5 587.1h0M505.0 593.3h0M533.8 573.0h0M531.4 591.0h0M542.8 594.2h0M533.6 587.9h0M525.0 594.8h0M545.6 586.9h0M545.1 585.8h0M538.0 570.8h0M522.8 588.5h0M538.0 590.9h0M546.5 587.8h0M539.1 589.3h0M530.2 578.6h0M508.1 584.1h0M517.4 589.8h0M527.1 586.0h0M545.6 592.6h0M531.1 593.8h0M544.3 596.9h0M529.7 588.7h0M536.3 581.8h0M516.2 584.5h0M537.0 574.2h0M520.4 580.3h0M527.1 590.8h0M512.2 590.2h0M535.2 595.3h0M511.5 588.3h0M529.3 587.1h0M537.9 591.1h0M511.9 578.5h0M536.3 590.1h0M529.5 587.4h0M537.6 620.0h0M506.7 596.1h0M504.9 589.6h0M527.2 585.8h0M520.1 599.1h0M515.8 588.6h0M527.6 596.8h0M524.1 601.6h0M544.8 596.9h0M545.1 594.0h0M541.2 585.7h0M536.6 594.3h0M507.6 574.2h0M524.7 584.7h0M530.0 580.9h0M525.7 583.9h0M510.0 577.1h0M515.7 580.5h0M527.2 590.9h0M538.1 580.2h0M540.9 590.7h0M528.2 590.4h0M506.2 584.6h0M518.9 585.3h0M538.7 570.3h0M515.5 593.7h0M527.0 592.3h0M521.6 581.6h0M513.3 603.5h0M506.6 579.6h0M517.0 585.7h0M517.6 582.2h0M546.4 591.7h0M504.6 592.1h0M536.4 577.0h0M540.0 597.9h0M525.2 589.2h0M523.6 583.9h0M522.6 579.5h0M541.2 594.2h0M535.2 576.2h0M514.2 589.5h0M521.6 587.7h0M543.1 591.8h0M506.5 594.7h0M541.4 589.7h0M533.8 605.7h0M510.4 600.8h0M545.0 607.9h0M531.5 581.9h0M516.5 577.7h0M517.0 596.3h0M522.9 604.0h0M540.9 594.2h0M536.2 587.9h0M546.0 598.0h0M545.0 591.6h0M537.3 579.4h0M533.5 587.9h0M530.2 583.7h0M534.5 601.3h0M543.3 590.5h0M525.5 592.2h0M542.3 571.6h0M511.9 584.4h0M533.0 589.6h0M540.5 610.2h0M542.6 588.2h0M532.3 595.0h0M518.7 568.1h0M542.7 591.3h0M506.2 597.2h0M526.4 588.3h0M510.2 591.7h0M544.4 590.0h0M505.3 588.1h0M506.9 591.6h0M518.1 600.1h0M521.1 598.2h0M526.1 582.8h0M521.5 589.7h0M514.4 595.4h0M529.8 602.1h0M533.8 577.1h0M505.9 601.3h0M505.4 594.7h0M544.5 596.2h0M525.3 591.6h0M516.4 590.3h0M541.4 589.3h0M514.8 585.7h0M517.0 593.8h0M514.9 585.4h0M508.4 587.8h0M536.7 597.3h0M534.2 576.8h0M523.1 590.1h0M545.9 582.0h0M505.0 586.7h0M536.9 592.7h0M527.8 576.6h0M525.9 586.8h0M529.9 585.1h0M510.9 597.3h0M527.1 579.6h0M530.9 592.6h0M540.2 594.7h0M542.7 591.6h0M528.4 585.6h0M521.6 593.7h0M520.0 604.6h0M542.9 595.7h0M545.8 593.0h0M512.2 567.6h0M530.7 591.4h0M544.9 595.6h0M536.1 586.5h0M532.8 590.7h0M505.5 607.1h0M518.8 567.4h0M533.5 588.8h0M528.8 572.3h0M539.9 592.5h0M529.4 598.9h0M541.6 594.4h0M508.1 606.0h0M511.8 583.5h0M512.3 586.0h0M535.7 598.0h0M544.5 563.6h0M526.0 593.3h0M506.2 575.1h0M540.1 592.2h0M524.4 590.1h0M517.9 587.1h0M546.9 595.6h0M509.5 589.4h0M511.6 601.6h0M524.9 602.5h0M544.3 587.5h0M546.9 608.2h0M515.7 593.7h0M534.7 595.1h0M514.4 587.8h0M526.5 591.8h0M522.1 582.1h0M514.9 597.5h0M521.2 588.9h0M525.8 593.0h0M532.0 586.4h0M521.1 575.6h0M541.6 592.6h0M529.1 590.6h0M540.9 587.8h0M531.3 596.3h0M544.0 590.1h0M522.4 594.0h0M508.1 584.1h0M524.9 596.3h0M515.4 590.1h0M522.0 586.8h0M536.6 588.7h0M516.5 592.2h0M533.5 594.4h0M509.9 590.7h0M541.0 580.2h0M529.3 584.8h0M544.8 584.9h0M525.1 602.8h0M533.0 591.4h0M542.3 595.9h0M524.8 585.5h0M531.3 591.4h0M516.9 581.7h0M535.8 582.0h0M514.8 584.6h0M517.6 588.6h0M527.3 581.3h0M529.1 588.9h0M543.7 587.1h0M534.2 599.7h0M543.3 597.4h0M540.0 591.5h0M511.1 567.3h0M538.0 613.0h0M536.6 582.7h0M522.4 584.2h0M504.1 601.2h0M536.7 592.4h0M509.4 589.6h0M533.7 596.4h0M544.3 587.5h0M505.7 585.0h0M512.8 589.9h0M526.1 573.9h0M527.7 587.7h0M539.2 597.6h0M536.2 568.6h0M545.3 603.7h0M546.7 587.3h0M518.3 592.2h0M505.8 590.7h0M522.7 596.8h0M529.4 579.2h0M524.3 595.9h0M522.2 590.7h0M505.4 594.1h0M521.9 582.8h0M507.8 585.9h0M526.0 579.6h0M512.2 585.3h0M521.6 586.4h0M529.8 607.1h0M507.8 593.4h0M545.5 595.2h0M510.3 594.3h0M513.1 591.9h0M510.5 586.9h0M519.8 590.3h0M505.3 595.1h0M530.7 609.0h0M508.3 593.3h0M514.8 598.8h0M526.4 576.0h0M511.6 574.1h0M537.2 585.5h0M532.8 583.3h0M507.6 599.8h0M528.6 585.1h0M537.4 601.6h0M517.9 591.7h0M520.0 593.0h0M531.7 584.3h0M514.1 594.0h0M515.8 595.5h0M542.5 588.7h0M517.2 584.2h0M525.8 606.8h0M531.3 586.0h0M544.0 583.8h0M511.5 592.9h0M538.4 595.7h0M541.3 583.6h0M525.9 596.0h0M525.4 588.0h0M534.4 592.0h0M514.6 597.0h0M523.9 607.6h0M538.4 596.9h0M517.5 592.2h0M534.9 589.5h0M542.0 611.5h0M540.1 571.3h0M514.6 596.8h0M534.6 589.4h0M504.4 593.4h0M513.9 578.8h0M522.5 610.7h0M515.8 575.4h0M541.4 587.7h0M535.2 601.6h0M534.6 590.9h0M518.8 589.7h0M528.5 559.5h0M524.2 575.4h0M515.5 587.3h0M536.5 585.7h0M537.2 581.8h0M542.6 578.7h0M521.2 591.4h0M506.8 594.1h0M545.0 597.1h0M509.0 591.7h0M525.9 583.8h0M536.4 596.5h0M536.9 590.0h0M505.5 590.3h0M514.8 598.3h0M509.5 609.8h0M541.8 595.0h0M538.4 584.8h0M513.5 596.5h0M519.7 575.7h0M515.9 592.8h0M514.1 586.8h0M539.9 589.0h0M517.2 587.9h0M511.0 594.4h0M526.1 594.0h0M523.0 593.7h0M528.5 590.6h0M536.9 575.4h0M533.0 589.5h0M525.3 589.3h0M528.9 590.7h0M510.3 609.3h0M527.4 584.5h0M510.7 597.3h0M530.2 588.8h0M532.5 590.4h0M539.9 598.9h0M507.4 606.1h0M538.3 584.3h0M528.0 560.1h0M514.8 588.0h0M545.1 584.6h0M517.5 591.5h0M543.4 586.7h0M515.8 589.4h0M539.5 584.9h0M537.6 571.9h0M508.8 591.7h0M545.8 590.2h0M541.3 596.0h0M545.8 584.2h0M509.7 584.6h0M538.2 588.6h0M538.5 583.5h0M543.9 587.9h0M522.8 591.2h0M518.9 592.2h0M521.7 585.4h0M534.3 592.0h0M529.9 591.1h0M540.9 610.8h0M519.6 595.0h0M529.1 568.2h0M544.9 571.2h0M517.4 587.7h0M530.0 592.7h0M516.8 569.2h0M512.2 600.8h0M528.8 566.6h0M540.4 572.3h0M533.0 603.7h0M529.2 579.8h0M540.6 596.0h0M512.0 589.3h0M512.5 585.2h0M512.0 581.0h0M539.5 588.6h0M577.2 583.9h0M574.3 598.3h0M589.5 599.5h0M568.8 592.3h0M576.2 546.4h0M550.1 593.7h0M566.1 559.8h0M554.2 589.7h0M560.6 567.1h0M588.4 610.1h0M565.2 595.7h0M568.7 598.2h0M589.1 592.3h0M567.6 597.6h0M587.0 587.0h0M586.4 600.9h0M579.5 604.5h0M567.6 569.7h0M557.3 564.6h0M584.1 593.6h0M558.7 588.2h0M566.5 592.8h0M548.8 586.0h0M579.0 596.7h0M588.0 573.7h0M559.0 593.4h0M577.4 583.8h0M587.0 596.9h0M548.2 588.3h0M585.2 587.2h0M569.5 586.0h0M566.6 594.5h0M580.6 588.0h0M574.0 578.2h0M584.8 594.8h0M553.4 584.0h0M584.4 590.9h0M566.3 581.6h0M583.9 583.2h0M588.8 595.8h0M559.0 588.6h0M567.5 590.2h0M587.5 591.2h0M552.1 590.7h0M582.3 588.5h0M579.4 592.8h0M585.8 617.1h0M556.4 577.8h0M585.6 585.0h0M580.2 574.7h0M586.6 589.7h0M588.3 593.9h0M572.4 581.5h0M564.5 586.8h0M549.9 593.8h0M561.7 618.1h0M581.3 587.1h0M577.4 589.8h0M577.3 572.5h0M587.0 606.3h0M581.5 582.5h0M555.1 584.3h0M565.7 590.2h0M572.1 579.6h0M550.8 595.9h0M570.2 597.3h0M585.0 572.2h0M576.7 590.6h0M580.0 547.7h0M549.5 578.9h0M571.1 589.4h0M584.6 575.6h0M582.9 585.6h0M549.6 608.7h0M571.9 578.1h0M582.6 567.3h0M568.8 595.8h0M587.2 582.0h0M559.8 585.8h0M558.5 564.7h0M572.0 619.7h0M570.4 578.9h0M557.6 594.7h0M573.6 590.7h0M558.2 584.3h0M568.1 587.4h0M570.4 593.2h0M587.1 588.9h0M568.3 585.3h0M579.8 600.0h0M587.5 585.9h0M580.0 594.8h0M573.9 588.4h0M589.6 573.7h0M576.0 604.1h0M585.6 565.3h0M583.7 581.1h0M579.4 590.8h0M563.8 600.6h0M584.4 586.9h0M550.8 586.4h0M567.6 583.1h0M571.9 600.7h0M575.1 586.1h0M555.7 598.6h0M549.3 595.9h0M582.3 578.1h0M582.4 574.7h0M562.4 606.9h0M551.9 589.3h0M579.5 613.7h0M578.8 635.5h0M590.1 567.6h0M557.9 599.5h0M567.5 581.6h0M585.0 595.3h0M557.8 590.7h0M586.9 583.0h0M553.4 572.2h0M560.6 602.4h0M587.0 614.5h0M553.9 588.2h0M570.7 578.6h0M586.8 580.6h0M569.4 586.2h0M582.6 604.6h0M559.7 584.6h0M582.5 584.2h0M587.4 638.2h0M581.9 596.2h0M566.5 594.4h0M581.0 581.8h0M576.8 586.5h0M580.4 580.4h0M560.0 592.7h0M568.2 574.2h0M576.9 587.2h0M565.8 586.9h0M588.5 619.0h0M561.2 587.3h0M564.6 582.9h0M581.6 595.3h0M559.7 606.5h0M572.3 607.0h0M571.5 607.7h0M550.1 594.9h0M584.8 607.4h0M552.8 580.5h0M589.5 595.6h0M568.8 596.0h0M585.4 588.9h0M579.6 587.2h0M577.3 598.5h0M558.8 596.6h0M552.4 594.0h0M573.2 585.9h0M576.8 600.4h0M585.8 607.2h0M563.9 580.1h0M567.8 600.2h0M569.4 576.8h0M581.6 600.1h0M579.2 607.6h0M568.5 589.3h0M587.3 580.7h0M575.0 593.0h0M561.5 600.4h0M550.0 591.8h0M582.9 583.0h0M560.1 580.9h0M583.7 567.1h0M563.4 603.4h0M560.6 589.3h0M554.2 598.7h0M580.8 609.1h0M566.4 598.5h0M555.9 574.9h0M584.8 582.4h0M576.5 574.8h0M570.8 602.8h0M580.9 597.4h0M551.1 590.5h0M589.0 592.8h0M564.5 578.5h0M567.8 583.3h0M553.4 586.4h0M587.1 608.6h0M562.2 592.9h0M556.6 612.7h0M585.6 602.0h0M563.7 605.9h0M550.6 581.7h0M574.0 587.2h0M583.8 599.6h0M584.6 582.2h0M566.9 569.9h0M584.5 592.8h0M565.3 582.6h0M571.8 602.4h0M564.4 573.3h0M582.1 600.4h0M552.3 580.5h0M586.9 586.0h0M576.4 603.5h0M565.0 587.7h0M567.4 579.4h0M551.9 586.8h0M569.1 607.9h0M582.3 588.9h0M561.4 586.8h0M559.0 593.5h0M572.3 584.7h0M556.0 589.1h0M551.8 590.7h0M574.6 595.2h0M584.8 574.5h0M587.7 591.5h0M562.5 561.9h0M587.6 601.9h0M583.5 599.3h0M562.3 586.8h0M550.1 601.5h0M582.6 589.2h0M557.0 595.1h0M553.1 612.0h0M586.5 600.8h0M576.5 596.9h0M572.7 606.7h0M575.4 595.0h0M586.6 592.8h0M558.7 589.4h0M586.3 621.8h0M548.5 590.4h0M566.4 585.9h0M559.3 608.1h0M583.5 583.1h0M567.5 591.8h0M557.6 612.6h0M577.4 596.0h0M582.7 577.2h0M577.8 598.5h0M575.6 583.7h0M567.1 579.8h0M575.2 582.1h0M561.0 583.2h0M588.0 640.1h0M563.9 575.3h0M566.6 594.7h0M581.2 582.4h0M583.8 605.6h0M567.7 587.3h0M571.2 583.3h0M555.0 592.7h0M573.3 609.7h0M552.9 597.4h0M586.4 605.1h0M568.4 582.7h0M574.7 576.3h0M589.0 597.1h0M555.0 595.2h0M574.0 577.0h0M579.1 598.2h0M576.2 590.9h0M577.1 584.7h0M566.0 587.9h0M578.0 583.9h0M577.5 599.3h0M561.0 605.2h0M554.4 581.2h0M579.0 595.4h0M569.9 597.9h0M589.8 585.4h0M562.2 588.5h0M563.6 598.4h0M569.1 585.4h0M574.9 603.7h0M554.5 581.2h0M581.2 588.0h0M559.7 578.2h0M569.8 588.4h0M554.4 567.8h0M561.4 591.6h0M567.3 565.0h0M559.3 586.7h0M565.2 613.9h0M557.0 592.7h0M586.8 620.0h0M589.7 620.6h0M575.4 577.6h0M573.2 583.2h0M581.3 586.1h0M553.3 580.6h0M585.5 588.4h0M552.6 585.7h0M550.7 591.9h0M588.5 589.5h0M571.5 574.0h0M560.6 581.3h0M554.3 590.0h0M564.5 593.9h0M562.1 586.1h0M588.7 595.5h0M586.9 612.0h0M582.9 587.3h0M579.1 607.0h0M578.8 586.9h0M547.9 584.7h0M571.0 609.8h0M569.8 557.8h0M576.1 593.1h0M582.6 586.2h0M584.1 581.5h0M569.0 571.3h0M589.3 591.2h0M567.6 599.0h0M560.1 589.7h0M563.4 557.6h0M557.5 592.2h0M575.2 591.7h0M560.4 597.3h0M562.8 589.9h0M567.9 606.2h0M580.3 580.3h0M552.7 591.0h0M556.0 587.1h0M573.9 594.8h0M558.5 584.8h0M576.7 580.6h0M583.6 584.9h0M585.6 601.9h0M553.3 578.4h0M559.8 594.7h0M580.9 606.7h0M553.2 577.6h0M577.9 585.5h0M550.4 596.2h0M565.1 590.6h0M570.9 600.3h0M559.4 601.3h0M573.2 595.6h0M569.2 593.8h0M580.5 583.3h0M582.6 588.3h0M550.4 572.4h0M556.1 588.2h0M555.6 587.4h0M576.0 598.0h0M572.6 564.8h0M586.5 591.7h0M574.6 593.6h0M577.8 563.1h0M571.5 595.3h0M574.2 603.4h0M573.9 585.0h0M555.1 593.6h0M558.4 597.1h0M582.4 569.2h0M587.3 571.9h0M565.4 578.0h0M558.5 605.5h0M586.1 591.1h0M588.2 605.1h0M549.0 575.9h0M577.2 587.3h0M567.3 583.3h0M575.6 595.3h0M550.4 588.8h0M582.8 590.1h0M553.1 571.7h0M567.8 579.1h0M574.3 590.3h0M560.6 615.3h0M575.9 589.9h0M559.1 601.8h0M557.0 576.9h0M577.0 596.8h0M574.8 594.9h0M587.4 591.1h0M574.8 600.6h0M561.2 583.1h0M565.4 589.9h0M586.1 594.5h0M585.8 601.4h0M564.2 580.8h0M568.3 614.0h0M567.9 583.6h0M573.7 595.9h0M560.4 575.3h0M586.8 581.2h0M572.7 590.1h0M585.1 607.9h0M560.0 589.5h0M572.5 590.4h0M563.3 599.3h0M562.9 586.8h0M571.1 598.9h0M571.5 590.4h0M562.2 586.1h0M559.9 595.2h0M547.2 618.3h0M564.0 601.2h0M556.6 614.5h0M587.7 588.0h0M577.2 595.5h0M583.3 595.3h0M589.8 603.8h0M555.6 574.2h0M588.0 594.5h0M586.0 588.5h0M569.6 591.1h0M567.7 567.4h0M567.2 580.0h0M586.0 579.0h0M560.8 573.4h0M570.7 588.9h0M567.6 579.2h0M576.4 589.7h0M578.7 597.4h0M583.8 583.2h0M588.4 564.4h0M552.5 587.4h0M567.3 587.4h0M578.1 615.1h0M554.9 588.4h0M576.7 597.8h0M562.3 585.4h0M551.2 582.1h0M582.1 610.1h0M567.7 567.2h0M579.0 596.3h0M555.1 603.6h0M553.4 615.5h0M582.5 596.3h0M555.9 612.2h0M558.2 584.2h0M579.1 581.3h0M572.7 575.8h0M578.2 602.5h0M559.7 600.8h0M560.7 577.9h0M554.9 584.8h0M557.0 583.1h0M559.3 584.8h0M560.5 587.8h0M555.4 576.7h0M589.7 597.9h0M589.0 591.7h0M551.6 592.9h0M578.6 585.0h0M581.5 590.1h0M580.8 592.9h0M563.2 587.7h0M587.1 606.1h0M588.3 596.1h0M552.7 613.5h0M572.5 581.2h0M588.7 582.9h0M566.1 593.9h0M550.6 598.1h0M577.9 583.8h0M590.0 600.2h0M580.8 597.2h0M575.6 585.2h0M571.3 602.5h0M584.8 635.7h0M568.7 597.9h0M564.4 594.2h0M581.4 568.0h0M571.4 586.2h0M579.6 587.0h0M582.1 580.2h0M587.1 584.7h0M573.2 565.7h0M587.0 585.4h0M582.7 596.6h0M571.6 584.3h0M557.9 603.1h0M555.3 583.5h0M548.3 592.7h0M572.2 583.6h0M577.9 594.7h0M573.9 579.1h0M589.5 603.4h0M586.3 568.2h0M556.6 593.0h0M568.2 598.5h0M584.7 607.4h0M568.9 602.4h0M561.2 589.7h0M577.2 594.4h0M554.2 571.0h0M563.8 590.9h0M570.2 586.1h0M581.2 602.6h0M560.6 584.9h0M586.6 603.9h0M571.2 594.9h0M565.1 574.6h0M587.0 593.9h0M565.7 588.6h0M555.0 600.8h0M581.3 601.8h0M558.3 615.4h0M549.2 589.1h0M581.1 592.1h0M560.2 589.1h0M554.3 585.6h0M561.4 569.7h0M587.5 576.5h0M549.9 594.6h0M554.1 589.9h0M586.6 597.1h0M577.6 588.4h0M584.0 601.9h0M579.2 594.6h0M560.7 601.9h0M574.0 581.8h0M576.7 558.9h0M586.6 604.4h0M588.2 591.1h0M576.0 608.3h0M585.3 604.0h0M554.6 595.2h0M581.7 586.6h0M586.6 599.0h0M577.8 574.7h0M563.7 584.8h0M548.2 584.5h0M565.7 596.9h0M562.2 596.6h0M551.8 592.4h0M558.2 592.2h0M569.3 584.2h0M588.7 578.9h0M589.1 578.7h0M547.3 587.7h0M584.5 583.0h0M582.5 567.5h0M563.2 589.0h0M571.2 611.3h0M577.6 582.6h0M576.2 580.4h0M583.3 589.7h0M570.6 589.6h0M550.4 615.5h0M553.6 602.8h0M562.0 595.5h0M552.1 595.1h0M574.3 570.3h0M548.9 586.1h0M549.7 597.4h0M586.7 582.1h0M584.4 577.3h0M568.9 583.1h0M584.8 605.0h0M565.1 570.3h0M581.5 541.5h0M584.7 588.3h0M587.8 574.9h0M586.7 608.1h0M563.1 613.5h0M573.8 601.6h0M568.8 588.2h0M560.1 582.4h0M558.3 570.8h0M569.4 591.1h0M578.5 591.0h0M563.3 572.4h0M552.0 593.3h0M561.4 591.4h0M584.8 604.0h0M587.4 605.5h0M554.0 592.0h0M570.0 590.7h0M589.5 583.9h0M575.1 599.7h0M584.0 602.1h0M573.6 592.8h0M552.9 598.1h0M585.1 574.2h0M569.0 592.8h0M583.2 587.9h0M573.6 586.6h0M575.3 579.9h0M571.1 575.7h0M584.5 602.6h0M585.2 590.2h0M581.9 589.0h0M575.5 586.2h0M559.8 580.4h0M573.6 584.4h0M579.0 579.4h0M559.5 591.7h0M550.2 581.0h0M576.5 612.5h0M580.5 576.3h0M566.7 604.1h0M559.3 583.3h0M577.2 596.4h0M563.6 601.5h0M611.7 611.8h0M607.0 581.4h0M608.6 623.9h0M620.6 548.5h0M619.6 590.3h0M613.1 589.4h0M592.7 586.6h0M624.0 586.2h0M612.6 557.5h0M619.0 572.6h0M595.4 589.7h0M595.5 599.6h0M608.9 595.9h0M611.9 595.6h0M605.2 558.5h0M624.9 591.1h0M605.5 605.5h0M624.9 565.8h0M607.5 615.3h0M594.3 585.4h0M606.6 617.9h0M625.5 619.0h0M590.7 565.9h0M631.7 610.6h0M612.2 598.3h0M621.3 590.1h0M627.9 584.4h0M632.8 603.6h0M622.4 567.2h0M628.6 531.0h0M603.0 572.5h0M625.7 602.4h0M623.1 620.8h0M606.0 578.9h0M616.6 595.2h0M630.9 610.1h0M601.6 573.7h0M621.5 574.0h0M609.6 558.5h0M615.8 590.6h0M621.3 653.4h0M596.4 584.9h0M626.5 583.5h0M600.1 626.6h0M630.4 599.2h0M625.7 640.5h0M630.2 597.9h0M628.6 583.2h0M629.2 576.8h0M619.7 582.5h0M627.3 628.4h0M597.7 624.8h0M620.3 601.1h0M620.3 574.2h0M620.0 599.8h0M618.5 652.4h0M600.7 595.4h0M621.2 624.0h0M611.1 595.9h0M611.9 593.6h0M610.2 650.5h0M612.1 608.3h0M614.2 605.4h0M621.7 599.8h0M613.4 628.6h0M624.1 576.7h0M600.5 587.2h0M627.8 551.0h0M616.5 609.6h0M620.7 546.4h0M620.0 564.5h0M601.2 578.7h0M621.9 617.3h0M612.4 605.6h0M616.1 583.1h0M629.9 593.4h0M600.5 545.4h0M614.0 639.5h0M626.8 581.6h0M623.7 610.8h0M609.3 593.0h0M596.3 576.8h0M615.1 598.7h0M603.5 592.8h0M632.9 544.3h0M626.4 558.4h0M622.1 582.4h0M605.1 570.7h0M594.2 603.6h0M622.8 577.0h0M612.4 588.6h0M590.6 582.4h0M612.3 572.5h0M623.5 604.8h0M592.5 591.0h0M601.5 597.8h0M615.4 571.9h0M611.6 568.1h0M611.5 613.2h0M631.4 588.9h0M631.2 614.6h0M602.8 592.6h0M629.4 576.7h0M632.4 595.2h0M596.7 602.8h0M629.7 590.4h0M596.4 574.2h0M590.6 605.4h0M629.7 583.0h0M632.7 591.8h0M606.7 596.1h0M596.2 568.5h0M601.4 584.8h0M614.5 603.4h0M605.2 578.1h0M624.1 595.6h0M617.6 612.7h0M608.2 576.1h0M625.5 562.8h0M606.7 591.4h0M631.0 574.6h0M624.0 610.5h0M602.5 600.4h0M610.9 574.3h0M603.7 577.5h0M617.8 574.5h0M621.9 568.2h0M614.6 599.3h0M611.9 661.3h0M600.2 599.5h0M627.1 562.7h0M608.8 575.0h0M622.1 558.4h0M619.1 601.0h0M623.0 552.1h0M595.9 572.8h0M628.6 564.7h0M616.3 600.8h0M611.3 589.3h0M613.8 625.7h0M624.2 606.4h0M606.6 584.9h0M616.3 582.5h0M613.5 607.5h0M627.4 615.9h0M598.4 580.2h0M607.7 589.0h0M619.9 571.0h0M616.4 567.4h0M632.1 541.8h0M607.6 601.5h0M600.1 582.0h0M618.7 590.6h0M592.6 608.0h0M592.3 595.7h0M629.1 574.4h0M626.7 599.3h0M630.7 626.7h0M622.5 566.7h0M622.2 587.0h0M633.2 591.6h0M624.2 587.8h0M628.0 606.4h0M594.6 601.1h0M604.5 580.6h0M602.8 596.4h0M607.3 547.5h0M620.7 603.9h0M594.3 614.8h0M604.6 588.7h0M631.5 568.3h0M609.3 603.4h0M628.0 599.8h0M607.0 576.5h0M632.3 570.1h0M604.7 594.1h0M605.3 585.0h0M592.5 597.0h0M615.2 665.8h0M621.8 522.8h0M603.0 599.7h0M623.5 524.0h0M603.5 598.1h0M611.8 602.5h0M621.4 602.5h0M631.9 583.4h0M605.9 577.1h0M617.6 571.3h0M600.7 593.2h0M597.4 598.4h0M618.1 620.8h0M599.9 557.1h0M600.2 640.4h0M628.6 605.3h0M623.9 575.9h0M624.0 579.2h0M591.2 597.4h0M607.9 638.0h0M601.3 606.5h0M630.9 574.4h0M630.3 620.0h0M623.6 568.9h0M613.8 616.7h0M622.9 618.4h0M594.1 589.6h0M626.7 590.9h0M613.2 566.8h0M607.1 581.7h0M629.8 593.9h0M621.0 589.8h0M617.4 658.3h0M610.2 579.3h0M593.3 592.3h0M598.4 573.5h0M629.1 566.0h0M621.3 638.5h0M604.8 640.0h0M615.9 538.0h0M597.9 540.0h0M600.2 571.3h0M613.9 603.6h0M594.9 607.7h0M617.8 585.9h0M607.1 600.3h0M622.8 587.9h0M630.8 646.7h0M626.7 614.2h0M631.6 574.9h0M616.1 563.2h0M597.6 586.3h0M626.8 588.4h0M628.1 601.2h0M612.8 584.5h0M612.7 583.4h0M606.6 610.3h0M598.6 594.9h0M608.2 604.8h0M594.9 603.6h0M625.8 643.4h0M609.9 587.3h0M619.1 590.6h0M627.8 545.7h0M599.1 611.9h0M611.3 598.6h0M616.0 580.0h0M620.2 605.6h0M603.4 589.0h0M598.7 605.7h0M600.6 596.5h0M590.8 573.5h0M609.6 622.1h0M621.0 611.2h0M591.8 596.0h0M609.7 605.5h0M628.8 574.4h0M631.3 572.3h0M628.8 619.5h0M597.1 587.6h0M601.7 568.2h0M610.8 600.6h0M598.8 577.9h0M615.5 611.4h0M613.9 579.5h0M617.8 603.8h0M633.2 595.4h0M609.7 607.4h0M632.7 529.7h0M628.5 566.6h0M612.3 617.9h0M617.8 602.4h0M632.8 543.0h0M631.3 583.6h0M618.0 555.8h0M608.9 598.7h0M628.7 602.0h0M616.4 572.3h0M630.6 573.7h0M595.9 596.2h0M619.1 633.0h0M598.2 564.0h0M611.9 608.8h0M596.2 595.8h0M608.2 596.4h0M605.7 608.5h0M605.1 580.4h0M606.4 622.3h0M623.0 627.8h0M632.1 524.7h0M618.5 562.9h0M599.8 582.6h0M632.9 552.1h0M595.1 572.6h0M627.7 622.9h0M619.1 603.6h0M618.6 565.9h0M612.0 581.5h0M609.0 575.8h0M623.9 607.9h0M612.5 636.3h0M612.8 606.2h0M615.3 592.0h0M615.1 564.8h0M624.5 589.3h0M625.2 624.0h0M627.3 612.0h0M625.9 653.4h0M606.0 618.5h0M630.8 603.0h0M621.4 580.4h0M614.5 589.2h0M627.6 567.4h0M610.3 607.6h0M599.3 602.0h0M622.1 594.9h0M598.7 634.1h0M619.0 600.9h0M601.2 598.5h0M622.4 603.6h0M611.8 593.8h0M610.5 612.2h0M625.7 594.8h0M592.5 583.1h0M599.5 596.0h0M593.5 593.6h0M598.2 620.2h0M615.0 591.6h0M592.1 581.4h0M593.7 587.7h0M593.9 567.4h0M603.5 593.7h0M597.9 582.6h0M593.0 552.7h0M610.6 627.2h0M628.7 608.9h0M623.5 594.6h0M624.9 606.3h0M629.4 575.2h0M623.5 590.9h0M619.4 600.3h0M604.0 610.7h0M623.0 631.2h0M628.6 563.5h0M629.3 592.0h0M616.2 605.6h0M616.1 597.5h0M628.5 559.1h0M629.5 602.5h0M592.4 578.8h0M629.6 580.3h0M606.9 623.0h0M597.7 604.1h0M621.2 583.7h0M591.5 581.0h0M614.7 602.0h0M627.7 582.1h0M606.3 597.1h0M615.7 584.1h0M621.5 634.3h0M616.1 584.9h0M620.6 599.8h0M607.6 581.2h0M625.0 625.3h0M625.4 624.4h0M602.9 585.0h0M632.2 587.4h0M629.8 563.4h0M630.6 580.8h0M625.2 568.6h0M623.2 598.2h0M595.4 584.2h0M614.7 619.7h0M599.6 614.5h0M600.3 596.8h0M606.8 560.5h0M608.3 614.4h0M630.2 587.3h0M596.5 612.7h0M628.9 594.1h0M604.3 611.9h0M600.5 617.1h0M622.8 632.0h0M591.1 589.8h0M616.2 610.6h0M608.3 542.0h0M623.4 601.4h0M626.7 596.8h0M631.8 574.5h0M595.0 573.8h0M606.2 602.0h0M612.7 587.4h0M632.2 589.1h0M622.0 575.0h0M625.6 604.3h0M629.5 581.8h0M596.9 604.6h0M601.7 599.2h0M608.3 554.0h0M623.3 597.5h0M606.3 590.0h0M620.1 599.8h0M595.8 604.7h0M592.3 590.6h0M613.2 574.6h0M608.1 606.3h0M614.7 596.8h0M624.1 611.3h0M613.4 573.7h0M631.9 605.4h0M597.8 599.4h0M625.8 566.8h0M599.6 581.2h0M622.1 626.6h0M627.7 652.2h0M613.8 606.2h0M630.3 559.2h0M598.7 599.9h0M618.4 576.9h0M594.4 611.3h0M619.8 643.0h0M631.3 600.6h0M618.8 641.8h0M605.1 592.5h0M593.4 584.9h0M603.5 601.5h0M631.1 602.3h0M608.4 614.5h0M591.2 583.3h0M609.0 577.9h0M626.5 593.8h0M609.6 584.0h0M623.6 647.6h0M618.5 625.9h0M623.7 585.6h0M618.5 569.9h0M604.9 581.7h0M620.4 565.2h0M610.7 575.0h0M595.2 591.6h0M629.8 575.3h0M612.2 574.5h0M626.7 599.3h0M632.4 573.9h0M618.7 600.8h0M620.1 590.8h0M610.6 624.2h0M590.9 591.8h0M630.7 572.6h0M594.7 594.4h0M615.0 532.5h0M620.7 561.3h0M611.6 619.6h0M601.0 578.5h0M601.9 631.0h0M613.1 587.7h0M619.7 567.8h0M612.8 578.0h0M597.8 555.1h0M596.1 582.9h0M602.3 563.2h0M607.4 617.1h0M621.3 616.5h0M604.4 577.4h0M632.7 580.9h0M610.2 616.2h0M621.0 587.3h0M615.7 578.0h0M614.7 581.1h0M629.8 599.3h0M627.3 585.3h0M608.6 595.2h0M602.0 610.7h0M602.6 581.1h0M631.4 614.7h0M632.0 583.2h0M620.7 579.9h0M632.0 628.4h0M614.3 592.1h0M633.2 597.9h0M627.8 609.6h0M620.0 566.3h0M620.2 561.3h0M630.4 643.1h0M594.7 588.8h0M621.7 586.5h0M627.2 576.9h0M614.6 613.5h0M615.3 571.0h0M596.9 575.6h0M632.4 603.7h0M627.3 641.4h0M612.9 609.7h0M619.2 597.5h0M628.7 591.2h0M595.3 601.3h0M631.2 587.1h0M611.2 635.2h0M620.3 614.8h0M620.5 592.3h0M611.9 581.7h0M591.0 591.6h0M628.5 578.1h0M612.5 609.9h0M608.8 634.5h0M607.3 574.2h0M606.6 598.3h0M611.6 595.1h0M614.7 542.1h0M615.1 621.2h0M624.2 604.3h0M614.6 618.4h0M605.3 593.8h0M620.1 598.0h0M625.6 580.5h0M631.1 621.1h0M618.9 583.9h0M595.3 573.6h0M629.9 607.3h0M620.5 642.5h0M625.2 615.8h0M608.7 605.1h0M608.8 605.8h0M608.0 545.8h0M608.6 625.5h0M615.0 586.7h0M632.4 604.6h0M631.2 590.0h0M595.0 599.8h0M613.7 559.8h0M613.4 581.3h0M594.1 584.0h0M631.1 569.1h0M625.5 606.9h0M592.4 598.2h0M608.9 593.9h0M627.4 584.3h0M600.4 597.1h0M632.9 593.2h0M600.2 604.4h0M632.4 571.8h0M626.3 638.8h0M601.3 572.7h0M619.4 630.9h0M617.8 589.4h0M614.2 621.8h0M599.6 593.5h0M626.7 571.0h0M629.7 619.4h0M630.4 645.8h0M612.3 597.8h0M602.8 593.4h0M611.0 596.9h0M619.4 576.5h0M614.4 606.4h0M593.3 589.4h0M593.7 592.2h0M598.9 598.6h0M616.2 603.6h0M609.9 610.0h0M617.0 544.2h0M615.4 592.2h0M631.9 621.3h0M595.5 589.8h0M611.7 616.6h0M600.6 632.4h0M596.0 580.0h0M597.4 586.6h0M615.7 597.2h0M603.5 586.4h0M603.6 570.8h0M617.7 585.5h0M618.7 610.7h0M608.3 608.4h0M593.6 610.2h0M616.3 589.3h0M629.0 558.2h0M613.8 581.6h0M624.1 599.9h0M594.0 600.1h0M629.8 609.3h0M606.0 601.0h0M593.6 609.4h0M630.3 560.6h0M613.6 601.2h0M630.2 547.0h0M594.3 592.1h0M619.1 554.9h0M622.0 584.9h0M599.8 590.9h0M613.4 595.9h0M621.2 575.8h0M615.3 551.0h0M594.3 607.5h0M622.8 558.6h0M601.6 593.7h0M605.2 602.9h0M618.9 581.9h0M630.6 604.3h0M605.3 594.2h0M621.8 607.7h0M605.0 621.1h0M605.8 602.7h0M596.7 605.6h0M615.9 599.9h0M615.1 574.6h0M604.5 604.1h0M607.0 591.5h0M600.9 581.1h0M623.0 590.4h0M603.6 581.6h0M627.9 591.6h0M592.5 592.5h0M631.6 609.1h0M617.8 616.9h0M602.8 602.2h0M611.5 615.3h0M601.4 574.9h0M601.4 555.3h0M624.7 607.8h0M603.8 566.4h0M601.0 627.1h0M597.2 587.1h0M599.5 575.1h0M614.1 582.2h0M611.4 579.7h0M598.6 574.6h0M604.9 610.6h0M619.4 579.5h0M622.1 605.6h0M611.8 606.2h0M616.1 566.2h0M598.8 575.6h0M595.3 629.6h0M615.2 599.3h0M626.4 581.5h0M606.3 600.0h0M627.2 581.9h0M592.6 542.1h0M633.3 599.0h0M620.8 565.1h0M607.5 585.5h0M613.1 622.2h0M619.0 649.5h0M608.6 611.7h0M613.5 613.1h0M616.8 566.7h0M595.5 604.0h0M599.3 593.0h0M612.2 574.4h0M621.7 654.0h0M619.1 611.9h0M632.7 611.1h0M627.0 595.1h0M621.6 620.7h0M609.1 591.6h0M626.5 592.3h0M627.1 614.1h0M607.4 623.3h0M618.2 590.7h0M612.4 567.8h0M604.4 631.2h0M623.6 548.6h0M623.5 565.9h0M605.5 604.5h0M610.7 559.0h0M624.1 593.7h0M609.3 541.9h0M594.5 611.2h0M594.9 563.7h0M630.3 580.3h0M597.4 569.9h0M609.6 601.9h0M632.4 583.8h0M619.3 642.4h0M605.2 589.6h0M631.2 607.7h0M602.1 584.2h0M591.0 625.3h0M630.3 571.3h0M600.0 606.2h0M615.5 591.0h0M614.0 567.7h0M621.2 613.0h0M609.2 593.4h0M614.6 636.4h0M632.9 568.8h0M631.5 612.7h0M621.0 609.7h0M614.6 577.5h0M610.8 578.6h0M629.3 588.0h0M593.7 594.8h0M596.3 579.4h0M622.2 613.6h0M616.3 587.3h0M609.7 633.1h0M624.4 540.6h0M608.8 584.4h0M632.0 607.9h0M625.3 562.8h0M611.3 609.8h0M622.3 612.4h0M632.4 665.8h0M621.3 612.8h0M622.1 574.7h0M626.4 628.8h0M621.3 624.1h0M627.2 562.6h0M621.8 570.0h0M626.1 626.4h0M615.2 580.7h0M614.6 630.8h0M609.2 567.9h0M610.9 609.8h0M613.4 578.1h0M599.7 585.0h0M627.8 603.0h0M612.0 613.1h0M630.0 568.1h0M614.3 604.6h0M603.3 581.0h0M620.1 596.3h0M590.9 604.1h0M597.7 566.6h0M603.8 543.5h0M606.9 600.3h0M620.2 595.2h0M625.7 591.9h0M617.5 604.4h0M610.7 547.5h0M628.5 622.0h0M595.6 593.7h0M632.6 591.7h0M623.4 599.3h0M590.7 591.9h0M605.0 587.0h0M620.8 609.2h0M609.4 553.7h0M618.3 597.5h0M630.2 595.8h0M632.5 598.5h0M629.5 595.9h0M627.5 598.2h0M590.4 590.2h0M609.5 608.5h0M632.4 573.0h0M618.7 577.5h0M629.7 632.5h0M599.5 553.7h0M613.2 601.8h0M605.8 598.9h0M606.3 644.8h0M610.9 571.9h0M616.2 644.1h0M622.9 639.9h0M600.7 594.8h0M627.2 602.6h0M593.1 588.6h0M610.0 584.2h0M612.4 612.1h0M632.8 602.1h0M609.8 557.5h0M624.8 593.3h0M633.2 562.9h0M605.0 579.0h0M605.8 583.7h0M625.6 599.7h0M627.0 586.4h0M613.3 573.9h0M595.9 574.0h0M619.0 582.1h0M602.8 593.3h0M631.1 609.0h0M629.2 588.9h0M630.9 634.8h0M631.8 624.1h0M601.3 598.9h0M600.4 575.7h0M631.0 597.5h0M598.2 603.2h0M613.2 572.8h0M592.2 589.0h0M622.0 604.7h0M631.1 610.9h0M604.1 578.9h0M605.2 585.0h0M626.6 640.5h0M630.9 632.7h0M620.1 619.5h0M619.4 589.7h0M605.2 568.8h0M602.4 592.8h0M603.0 597.5h0M611.0 558.6h0M611.2 590.0h0M626.7 628.8h0M630.2 565.3h0M625.2 531.2h0M632.4 569.0h0M616.0 566.6h0M612.6 576.3h0M604.5 593.7h0M630.2 604.7h0M627.9 585.7h0M598.1 596.0h0M603.8 561.5h0M600.0 574.1h0M597.8 604.5h0M596.6 593.7h0M624.3 569.9h0M614.8 589.4h0M598.6 604.5h0M627.1 597.1h0M625.0 583.7h0M610.8 591.4h0M611.9 579.5h0M625.4 582.9h0M624.1 541.8h0M601.1 593.7h0M597.6 595.5h0M604.3 589.6h0M609.0 590.7h0M626.6 595.3h0M608.6 628.0h0M592.7 585.1h0M613.6 616.2h0M632.7 631.4h0M630.3 541.6h0M623.0 614.4h0M624.2 612.5h0M618.8 582.3h0M616.6 603.5h0M609.3 588.8h0M614.5 575.7h0M618.4 605.7h0M610.0 566.9h0M629.8 619.9h0M617.7 541.4h0M616.0 633.9h0M606.2 593.0h0M619.3 573.5h0M614.6 596.7h0M619.4 538.1h0M621.2 571.5h0M593.5 563.4h0M630.6 552.7h0M620.5 592.7h0M612.4 587.6h0M606.5 602.2h0M615.4 587.8h0M595.8 630.4h0M620.8 565.9h0M600.0 595.5h0M594.9 582.0h0M630.3 593.7h0M626.3 584.5h0M629.2 582.2h0M627.0 570.8h0M599.7 594.0h0M609.8 611.1h0M594.0 565.0h0M630.3 605.5h0M616.7 561.6h0M621.7 601.8h0M616.0 573.0h0M606.9 572.4h0M598.3 601.3h0M618.8 595.6h0M598.1 572.3h0M599.7 594.0h0M607.1 551.5h0M650.1 557.6h0M656.3 616.8h0M660.5 638.9h0M671.1 633.2h0M672.7 589.9h0M662.0 595.7h0M658.4 634.7h0M640.4 547.2h0M676.1 540.1h0M658.8 545.7h0M651.3 589.6h0M666.4 573.1h0M638.7 550.6h0M652.8 599.1h0M657.1 605.9h0M637.4 610.9h0M670.2 566.5h0M643.1 602.6h0M650.1 597.7h0M673.5 619.6h0M675.1 555.0h0M645.7 555.7h0M658.0 622.0h0M646.8 631.9h0M665.8 613.5h0M662.0 629.3h0M662.8 609.6h0M634.5 598.4h0M658.2 586.1h0M671.1 601.6h0M670.7 606.6h0M659.2 602.2h0M648.9 613.7h0M669.9 583.4h0M675.4 557.0h0M659.3 594.8h0M657.3 596.8h0M669.6 600.4h0M662.5 631.8h0M644.0 625.1h0M661.5 548.4h0M643.5 600.1h0M671.8 636.2h0M651.0 613.9h0M673.5 625.7h0M641.4 607.3h0M655.9 576.1h0M656.2 613.4h0M673.4 602.6h0M642.6 573.4h0M655.0 591.7h0M638.2 611.5h0M650.6 572.5h0M651.7 617.4h0M667.0 581.6h0M675.4 616.6h0M670.8 633.2h0M661.2 623.1h0M661.8 590.6h0M668.5 655.7h0M656.9 646.3h0M646.8 541.7h0M660.4 644.3h0M659.5 598.8h0M635.3 630.6h0M672.2 610.5h0M645.5 646.7h0M661.8 623.7h0M673.6 611.2h0M642.5 546.5h0M675.4 522.1h0M662.5 599.9h0M636.1 584.6h0M642.5 557.0h0M660.7 559.5h0M658.9 589.1h0M669.1 627.5h0M634.7 608.1h0M636.5 591.0h0M652.3 588.6h0M663.4 624.2h0M649.7 541.1h0M656.2 583.8h0M663.1 663.0h0M673.6 574.0h0M651.7 620.1h0M665.6 609.9h0M653.9 539.9h0M660.2 613.5h0M649.2 566.4h0M651.6 601.3h0M653.9 623.5h0M647.6 612.0h0M651.1 640.2h0M639.1 535.0h0M648.2 589.7h0M634.6 571.3h0M653.2 604.9h0M654.9 574.4h0M665.4 599.2h0M634.3 555.6h0M668.1 601.0h0M655.9 573.8h0M671.3 641.4h0M644.0 623.6h0M667.3 630.3h0M635.0 623.1h0M671.5 601.9h0M642.6 565.6h0M665.4 604.4h0M634.7 595.9h0M639.6 615.2h0M646.9 585.9h0M671.8 605.4h0M667.7 573.7h0M646.4 592.7h0M656.9 636.4h0M645.0 563.5h0M673.5 609.9h0M644.0 592.2h0M634.9 652.8h0M636.7 563.4h0M640.0 676.7h0M665.8 610.0h0M635.0 558.5h0M665.7 580.2h0M671.1 628.3h0M634.2 582.2h0M634.9 607.1h0M674.1 593.0h0M647.9 613.6h0M658.2 584.9h0M640.8 595.7h0M642.2 599.4h0M663.7 562.6h0M672.1 612.5h0M642.6 574.7h0M638.2 599.4h0M634.5 592.4h0M635.1 592.8h0M656.3 611.4h0M656.6 593.0h0M653.4 621.3h0M671.6 555.0h0M670.1 606.5h0M668.5 600.9h0M670.3 582.3h0M667.8 609.8h0M655.2 651.9h0M666.4 614.2h0M645.7 608.8h0M644.9 588.5h0M666.9 530.4h0M641.9 573.1h0M666.6 584.2h0M636.5 555.8h0M644.3 581.3h0M666.2 604.1h0M661.2 572.3h0M660.4 643.8h0M647.3 614.0h0M657.6 601.1h0M658.1 573.2h0M658.2 595.1h0M649.8 561.4h0M670.3 558.8h0M661.4 550.6h0M646.5 631.7h0M647.4 607.3h0M661.1 629.1h0M644.0 595.7h0M662.4 585.7h0M636.8 520.6h0M653.5 526.2h0M660.2 581.9h0M675.7 592.3h0M641.4 579.5h0M675.1 594.7h0M636.4 611.0h0M633.8 563.2h0M647.3 580.0h0M669.3 585.0h0M658.8 597.0h0M648.5 566.4h0M665.1 591.2h0M643.2 629.2h0M641.0 609.2h0M646.4 622.1h0M665.0 628.7h0M651.2 628.6h0M640.5 590.6h0M665.5 552.6h0M634.1 557.3h0M642.9 583.4h0M651.9 604.1h0M664.4 602.9h0M659.0 582.5h0M666.0 593.5h0M653.6 605.6h0M672.6 560.9h0M673.4 588.4h0M669.8 557.3h0M665.0 610.1h0M641.7 561.7h0M637.7 583.7h0M673.5 565.3h0M674.2 602.0h0M648.5 594.0h0M671.7 565.3h0M663.4 638.3h0M640.1 573.8h0M668.8 560.1h0M653.5 589.4h0M672.7 607.3h0M648.9 622.7h0M638.4 576.5h0M651.8 655.6h0M647.8 570.1h0M665.1 597.7h0M676.0 590.8h0M675.5 571.6h0M636.6 604.4h0M667.9 608.3h0M640.7 592.5h0M655.3 601.6h0M641.4 550.8h0M670.0 574.9h0M644.7 588.7h0M651.3 610.7h0M668.3 588.7h0M655.5 536.8h0M644.2 608.3h0M675.5 603.1h0M670.0 566.4h0M665.6 606.1h0M658.6 615.0h0M666.2 625.0h0M664.8 592.3h0M671.5 604.3h0M665.0 599.3h0M664.5 586.0h0M658.2 592.2h0M666.6 654.2h0M638.6 585.9h0M635.5 592.7h0M656.8 596.4h0M653.2 560.6h0M668.5 574.3h0M638.8 621.9h0M668.9 558.1h0M656.0 571.7h0M650.5 581.6h0M672.7 598.6h0M664.5 585.4h0M640.8 590.8h0M651.2 647.2h0M655.7 634.0h0M666.5 631.7h0M651.7 583.3h0M648.1 599.1h0M665.7 548.6h0M652.6 597.6h0M654.7 574.2h0M665.0 608.4h0M647.2 549.1h0M653.8 568.8h0M674.3 590.9h0M663.2 544.3h0M653.8 572.7h0M673.2 651.1h0M657.0 554.1h0M663.9 634.6h0M651.1 556.6h0M670.3 605.5h0M648.9 595.9h0M655.6 568.4h0M668.2 662.4h0M667.9 587.3h0M673.7 573.3h0M634.7 585.9h0M672.4 612.4h0M657.2 617.4h0M658.3 607.0h0M674.2 646.9h0M665.7 655.0h0M676.3 672.8h0M670.4 614.2h0M668.6 591.9h0M671.5 574.6h0M647.0 629.8h0M651.8 560.1h0M634.9 605.6h0M666.6 574.9h0M637.4 629.8h0M642.7 554.7h0M638.3 587.7h0M664.5 607.6h0M640.3 545.5h0M671.8 598.1h0M658.5 675.9h0M654.2 611.5h0M663.3 583.6h0M647.2 554.1h0M640.7 598.6h0M651.9 582.8h0M640.6 565.6h0M659.9 609.6h0M658.2 601.9h0M647.8 600.4h0M641.1 608.2h0M668.4 602.3h0M651.5 609.4h0M649.9 615.3h0M636.9 597.4h0M641.7 569.0h0M644.7 577.4h0M671.2 586.0h0M661.5 598.8h0M656.9 604.3h0M663.0 604.5h0M636.6 646.7h0M652.8 623.9h0M658.3 596.9h0M657.6 595.6h0M642.3 605.4h0M663.5 561.9h0M673.6 599.2h0M671.5 576.5h0M638.2 652.5h0M640.5 622.6h0M660.2 617.2h0M673.0 620.6h0M651.1 563.1h0M669.7 594.5h0M659.0 563.9h0M654.3 570.2h0M653.8 614.8h0M656.0 589.8h0M654.2 611.1h0M641.1 565.2h0M657.4 624.2h0M657.0 606.7h0M669.0 651.0h0M671.9 575.0h0M639.3 544.2h0M646.6 618.8h0M676.1 567.3h0M665.4 582.7h0M670.6 664.3h0M654.3 581.6h0M668.4 636.5h0M651.4 571.4h0M647.4 577.6h0M647.4 604.7h0M640.5 595.0h0M665.2 591.8h0M644.9 599.2h0M667.8 609.2h0M644.8 626.9h0M657.7 626.4h0M663.7 579.6h0M643.3 580.9h0M666.2 594.2h0M641.9 629.4h0M665.5 600.7h0M668.1 602.3h0M663.3 612.4h0M642.8 584.3h0M655.8 643.9h0M673.3 580.5h0M664.6 599.5h0M661.4 614.1h0M661.8 619.3h0M648.3 558.6h0M643.0 586.5h0M651.1 630.1h0M644.7 591.0h0M659.0 587.0h0M653.4 636.1h0M663.5 571.5h0M641.0 587.4h0M651.7 587.3h0M660.3 592.4h0M674.4 623.3h0M645.8 576.0h0M642.2 589.9h0M645.3 627.0h0M660.4 596.1h0M633.6 554.3h0M660.9 590.1h0M672.7 591.3h0M667.8 634.6h0M655.8 573.5h0M663.9 558.0h0M671.9 630.3h0M634.5 598.9h0M646.6 612.5h0M676.3 618.6h0M647.6 574.1h0M643.9 581.1h0M656.3 581.1h0M654.2 612.8h0M646.8 593.1h0M637.4 593.3h0M635.4 610.0h0M641.1 614.6h0M672.7 607.7h0M656.7 591.9h0M641.1 617.0h0M667.1 596.0h0M671.5 589.7h0M645.9 591.8h0M650.5 588.4h0M667.9 589.8h0M639.6 667.0h0M641.4 565.0h0M651.3 596.0h0M672.7 579.5h0M660.8 610.0h0M672.0 610.5h0M665.4 617.5h0M652.7 543.7h0M659.0 630.7h0M637.8 597.7h0M661.6 565.8h0M675.7 604.6h0M671.1 652.1h0M673.0 617.9h0M644.0 559.1h0M673.0 581.6h0M667.0 556.9h0M659.0 644.3h0M670.9 550.5h0M670.0 609.6h0M670.6 617.3h0M642.9 583.5h0M669.8 631.0h0M660.0 550.3h0M668.5 630.3h0M660.4 547.9h0M636.3 623.1h0M645.7 572.4h0M643.6 543.4h0M671.9 603.8h0M667.7 575.7h0M660.2 605.4h0M651.5 628.6h0M650.6 599.2h0M667.8 603.6h0M673.2 588.5h0M664.7 636.0h0M641.6 570.8h0M659.7 565.1h0M653.0 657.4h0M639.8 560.0h0M661.0 604.5h0M656.4 625.7h0M661.3 583.5h0M637.3 589.4h0M643.2 577.0h0M638.6 604.2h0M662.6 573.7h0M659.8 584.2h0M672.5 528.6h0M634.0 629.7h0M675.1 606.3h0M651.0 535.1h0M645.6 652.5h0M662.1 606.1h0M641.2 629.5h0M674.7 584.3h0M664.6 573.5h0M668.0 597.6h0M648.0 642.7h0M649.7 612.5h0M657.6 567.6h0M639.9 602.2h0M639.6 592.2h0M636.8 581.4h0M655.2 588.3h0M648.8 642.8h0M661.1 604.4h0M657.1 616.2h0M635.5 592.6h0M663.6 579.7h0M663.6 516.2h0M647.5 602.4h0M646.9 640.3h0M643.5 586.4h0M656.5 608.2h0M671.7 574.7h0M670.8 565.4h0M649.3 571.3h0M654.6 643.7h0M647.1 611.7h0M644.4 565.4h0M668.1 571.3h0M652.5 593.5h0M670.1 596.6h0M653.2 595.5h0M647.5 630.5h0M634.6 641.6h0M667.3 583.1h0M659.2 651.7h0M633.8 573.9h0M660.0 627.6h0M658.1 551.4h0M659.6 599.4h0M641.3 595.3h0M668.9 582.2h0M640.4 666.2h0M661.8 591.0h0M665.0 568.9h0M653.1 609.8h0M645.7 620.2h0M668.8 616.9h0M653.5 585.0h0M668.1 582.8h0M651.7 599.5h0M643.0 555.5h0M665.2 595.8h0M649.9 575.0h0M642.4 646.9h0M644.1 605.5h0M646.9 601.0h0M674.8 566.3h0M648.8 554.9h0M637.1 521.9h0M662.8 596.5h0M674.4 651.2h0M641.2 551.6h0M665.5 578.0h0M648.0 584.1h0M649.0 597.4h0M676.0 639.8h0M636.6 578.6h0M675.3 575.4h0M662.4 557.0h0M673.9 568.8h0M661.4 633.5h0M670.9 573.2h0M674.7 615.4h0M658.3 592.2h0M663.8 592.1h0M656.9 597.3h0M642.1 631.7h0M657.1 518.9h0M651.8 590.7h0M669.6 583.8h0M666.8 579.6h0M665.6 607.0h0M652.6 563.6h0M641.0 585.8h0M641.9 542.5h0M637.5 579.3h0M638.3 576.0h0M662.7 607.0h0M668.6 597.5h0M645.6 611.5h0M671.8 631.1h0M671.5 592.6h0M663.6 621.7h0M672.8 584.4h0M667.4 600.5h0M669.6 593.4h0M647.9 667.8h0M638.8 601.8h0M670.6 583.7h0M673.2 574.5h0M643.6 599.0h0M659.8 607.9h0M668.8 616.6h0M636.2 600.5h0M672.7 635.0h0M675.7 615.7h0M661.3 595.4h0M655.9 580.5h0M649.2 610.7h0M634.8 596.7h0M640.5 591.1h0M650.4 595.8h0M657.6 640.7h0M670.5 595.2h0M646.2 592.9h0M648.6 612.4h0M653.1 623.9h0M644.9 561.8h0M661.1 603.0h0M645.9 637.1h0M635.9 618.1h0M643.0 605.2h0M657.7 529.2h0M650.2 657.9h0M646.8 582.3h0M662.2 570.3h0M650.6 629.2h0M672.0 589.6h0M675.3 637.1h0M651.0 623.8h0M667.4 572.3h0M652.3 588.1h0M651.8 594.9h0M670.4 531.3h0M671.2 616.3h0M655.0 568.7h0M664.7 592.7h0M657.0 600.9h0M666.6 582.7h0M676.2 530.8h0M640.6 598.1h0M662.8 597.6h0M662.0 577.8h0M665.3 564.2h0M660.3 580.5h0M668.0 574.9h0M650.0 582.5h0M659.5 605.7h0M674.1 591.7h0M646.4 565.0h0M642.3 572.1h0M641.0 623.2h0M672.5 629.3h0M653.6 524.3h0M639.2 621.8h0M656.4 562.4h0M645.6 579.1h0M664.6 619.3h0M660.7 598.8h0M649.6 580.5h0M674.6 596.4h0M669.6 591.5h0M666.3 561.1h0M653.6 600.9h0M675.6 676.4h0M639.3 556.3h0M654.9 588.6h0M659.2 585.7h0M672.9 576.4h0M657.2 616.5h0M662.3 604.0h0M651.8 624.2h0M634.9 595.9h0M664.9 610.6h0M670.4 621.1h0M672.2 666.5h0M673.1 595.0h0M671.9 595.1h0M660.2 577.7h0M656.7 588.3h0M644.6 558.7h0M653.1 594.9h0M660.8 594.3h0M653.0 554.2h0M642.5 634.2h0M653.5 661.0h0M657.9 609.4h0M667.7 616.0h0M647.2 627.7h0M665.6 575.0h0M655.4 603.6h0M661.3 630.5h0M635.7 572.8h0M657.9 585.5h0M665.3 604.0h0M665.0 607.4h0M633.7 579.3h0M676.4 622.0h0M658.4 571.0h0M647.2 612.0h0M648.2 595.5h0M670.1 568.8h0M662.1 642.0h0M672.5 609.8h0M669.1 624.5h0M660.1 599.8h0M636.3 581.8h0M641.0 602.8h0M655.3 603.1h0M638.6 602.3h0M661.2 606.0h0M651.0 611.3h0M657.5 589.6h0M656.5 596.0h0M649.8 584.1h0M650.5 575.9h0M645.0 600.3h0M654.7 574.9h0M668.5 613.3h0M670.7 553.7h0M670.2 603.8h0M657.7 558.4h0M655.6 566.8h0M643.7 602.5h0M660.3 575.2h0M669.4 593.1h0M658.7 594.7h0M668.3 581.0h0M641.1 567.7h0M648.9 594.7h0M674.2 604.9h0M645.1 589.6h0M667.8 597.1h0M660.3 595.3h0M675.7 557.3h0M659.8 651.2h0M668.5 612.6h0M636.0 674.7h0M645.2 608.0h0M650.3 593.6h0M666.3 599.9h0M648.8 600.8h0M664.5 570.9h0M642.7 582.3h0M644.8 597.1h0M674.9 618.3h0M652.4 610.2h0M639.1 577.9h0M659.9 616.8h0M670.3 619.3h0M669.8 571.7h0M668.4 610.6h0M669.9 584.3h0M651.0 639.7h0M659.6 594.3h0M647.2 536.6h0M649.7 565.5h0M637.4 650.6h0M660.9 615.5h0M672.9 669.8h0M675.8 578.8h0M647.8 658.0h0M643.7 566.2h0M665.0 601.9h0M675.9 596.1h0M665.4 625.3h0M639.0 610.6h0M656.5 586.5h0M642.7 605.1h0M635.9 641.7h0M645.0 564.2h0M669.1 649.2h0M651.2 605.5h0M665.8 592.9h0M666.3 614.6h0M652.6 522.3h0M653.6 592.2h0M654.0 563.4h0M642.0 591.3h0M643.2 605.5h0M661.3 570.4h0M665.4 528.1h0M662.4 597.7h0M655.1 599.1h0M665.3 619.6h0M654.3 538.5h0M645.9 584.1h0M652.0 617.3h0M665.0 607.1h0M645.0 600.1h0M670.9 586.8h0M664.3 559.7h0M659.5 667.3h0M661.8 651.6h0M651.1 610.1h0M641.7 552.2h0M645.6 578.9h0M670.7 647.7h0M673.0 583.4h0M646.8 585.9h0M647.8 606.8h0M668.8 586.4h0M664.0 580.9h0M644.9 620.0h0M654.3 566.4h0M654.7 573.6h0M675.4 599.2h0M643.8 618.2h0M660.3 630.9h0M639.5 632.0h0M654.6 587.3h0M642.8 631.8h0M656.7 640.3h0M652.9 598.6h0M662.9 556.4h0M642.8 593.8h0M669.3 605.5h0M650.5 545.9h0M673.1 596.7h0M668.9 592.9h0M659.3 566.3h0M646.4 603.4h0M675.1 613.6h0M654.9 677.6h0M645.0 576.3h0M637.0 572.9h0M662.5 627.6h0M640.0 589.3h0M636.0 598.4h0M667.2 611.5h0M660.1 605.2h0M647.0 610.8h0M641.7 582.1h0M659.1 602.7h0M659.4 605.9h0M670.8 619.2h0M660.8 571.4h0M657.8 549.1h0M656.6 603.1h0M675.6 590.4h0M666.2 604.5h0M662.7 665.9h0M653.4 609.3h0M673.5 587.8h0M636.6 556.1h0M638.2 589.7h0M650.2 611.5h0M657.9 643.6h0M649.5 597.2h0M661.0 639.8h0M662.0 543.4h0M652.0 564.6h0M665.8 578.0h0M642.8 596.8h0M661.7 564.2h0M662.1 598.1h0M662.4 584.9h0M667.1 592.1h0M641.9 571.3h0M653.4 575.7h0M659.2 620.1h0M663.8 629.3h0M637.0 592.8h0M666.7 580.2h0M658.6 596.1h0M673.1 608.5h0M658.0 584.9h0M654.3 606.7h0M640.8 609.4h0M649.1 594.3h0M645.9 576.8h0M634.1 577.9h0M643.6 583.4h0M671.9 611.9h0M645.8 599.3h0M660.2 601.1h0M645.0 605.1h0M634.4 584.1h0M662.1 601.3h0M663.7 620.8h0M661.6 600.8h0M646.3 585.9h0M640.2 609.5h0M661.4 596.1h0M653.1 594.9h0M651.5 591.3h0M645.4 546.0h0M660.3 584.7h0M655.6 627.5h0M648.3 624.9h0M636.2 545.8h0M668.7 595.3h0M634.5 558.6h0M663.4 613.5h0M656.6 613.2h0M657.8 645.4h0M670.0 583.8h0M669.1 598.1h0M639.1 550.5h0M655.2 560.3h0M673.6 533.7h0M660.1 554.6h0M636.0 636.7h0M669.8 593.0h0M676.1 615.1h0M662.7 544.6h0M658.4 571.8h0M637.1 631.6h0M661.5 592.0h0M661.8 544.9h0M674.8 610.4h0M653.9 611.0h0M646.7 606.8h0M635.2 624.6h0M674.9 595.9h0M656.4 604.2h0M658.9 622.3h0M669.1 580.7h0M659.8 599.3h0M659.2 552.1h0M652.6 578.0h0M674.0 639.2h0M651.2 580.6h0M646.6 570.5h0M656.8 614.5h0M660.1 606.4h0M675.7 669.2h0M650.0 575.5h0M650.3 580.9h0M659.6 585.4h0M668.4 599.6h0M637.8 587.1h0M664.4 568.0h0M669.4 536.1h0M655.8 580.5h0M648.0 584.9h0M668.5 612.4h0M656.0 601.8h0M634.6 615.9h0M646.7 570.1h0M646.6 562.5h0M652.1 650.3h0M670.7 607.8h0M674.5 579.2h0M650.6 600.8h0M674.8 582.0h0M675.9 645.4h0M666.8 603.9h0M646.9 570.4h0M667.9 613.6h0M656.4 591.2h0M634.4 616.0h0M668.4 632.2h0M645.2 601.2h0M676.2 609.0h0M673.0 583.3h0M659.3 577.4h0M640.2 592.5h0M660.7 570.1h0M671.5 543.2h0M656.8 603.2h0M638.0 592.1h0M673.2 587.8h0M663.3 539.5h0M649.6 637.2h0M668.7 630.5h0M661.6 602.6h0M645.7 575.2h0M659.6 595.8h0M635.5 598.3h0M639.8 639.3h0M671.2 659.9h0M645.8 600.3h0M649.8 627.5h0M663.0 584.4h0M638.2 561.7h0M666.0 568.8h0M661.1 545.6h0M660.2 573.8h0M673.1 586.1h0M637.2 611.0h0M650.2 572.5h0M672.9 624.6h0M658.0 577.4h0M667.7 626.7h0M651.1 627.1h0M658.6 591.9h0M657.1 600.7h0M667.7 595.4h0M666.4 610.2h0M666.8 604.3h0M656.5 620.8h0M635.1 619.2h0M657.9 569.6h0M644.5 636.4h0M666.8 593.8h0M666.1 631.2h0M643.3 582.5h0M663.8 626.1h0M657.1 620.0h0M655.5 600.8h0M663.9 583.0h0M663.9 604.7h0M637.6 591.7h0M641.9 592.2h0M675.0 561.5h0M658.9 578.9h0M667.6 570.2h0M666.1 646.0h0M654.3 604.5h0M662.2 625.3h0M662.8 609.6h0M650.5 602.3h0M657.6 576.1h0M656.2 599.0h0M655.1 630.3h0M646.0 585.0h0M648.1 579.0h0M656.0 568.3h0M675.8 583.8h0M651.6 599.1h0M681.2 557.8h0M687.2 586.3h0M685.6 627.4h0M683.5 591.4h0M685.7 609.2h0M677.7 537.3h0M687.8 596.4h0M688.6 597.3h0M685.1 667.8h0M678.1 612.7h0M682.2 586.3h0M679.9 615.7h0M688.1 562.2h0M684.6 617.7h0M681.7 604.8h0M678.0 603.4h0M678.8 605.9h0M681.4 597.7h0M677.1 576.8h0M677.9 602.1h0M682.9 602.8h0M683.6 589.5h0M677.7 609.9h0M680.4 581.2h0M684.1 562.6h0M681.0 590.0h0M678.7 584.2h0M682.1 612.4h0M689.0 634.8h0M682.1 574.2h0M685.1 593.2h0M690.5 593.7h0M677.4 588.4h0M678.1 560.6h0M693.4 622.1h0M683.7 665.4h0M677.9 673.4h0M682.9 580.4h0M683.0 548.3h0M689.0 570.3h0M685.0 595.4h0M681.7 588.7h0M688.1 586.4h0M676.6 626.6h0M687.6 546.4h0M679.4 581.7h0M685.0 563.7h0M681.1 545.7h0M680.1 597.1h0M679.4 551.0h0M683.7 554.7h0M692.7 600.4h0M683.8 603.8h0M680.5 542.6h0M689.3 630.7h0M682.4 612.4h0M676.9 655.2h0M689.2 635.3h0M685.5 606.5h0M682.2 595.1h0M684.3 616.6h0M684.2 575.9h0M682.9 581.1h0M682.3 570.6h0M677.6 606.4h0M682.8 560.3h0M676.5 633.0h0M684.2 625.3h0M688.1 639.3h0M680.1 587.9h0M688.5 603.9h0M687.8 564.5h0M681.5 645.5h0M678.8 578.8h0M684.2 630.8h0M684.2 573.0h0M687.5 642.3h0M682.0 622.0h0M676.5 618.0h0M678.0 581.0h0M680.0 568.8h0M681.6 550.2h0M681.2 623.0h0M682.8 599.4h0M688.3 588.3h0M680.1 623.3h0M680.8 584.4h0M679.2 589.8h0M680.6 592.5h0M679.3 597.1h0M680.0 581.3h0M677.6 602.3h0M680.1 588.9h0M683.9 605.7h0M689.6 601.2h0M680.1 565.1h0M683.9 603.7h0M685.9 574.8h0M678.0 583.2h0M690.5 584.0h0M688.4 584.3h0M678.3 590.3h0M691.2 582.8h0M678.3 597.4h0M688.6 657.3h0M685.4 590.6h0M690.9 556.7h0M677.9 611.5h0M690.3 654.6h0M683.8 585.0h0M683.8 598.5h0M684.8 643.2h0M682.1 602.7h0M684.7 673.3h0M676.8 610.8h0M686.9 657.1h0M679.7 614.0h0M680.1 579.8h0M685.6 508.4h0M684.4 602.7h0M687.3 580.7h0M687.5 584.2h0M688.1 584.1h0M682.9 622.1h0M678.1 571.4h0M678.8 581.5h0M682.1 561.3h0M678.1 527.2h0M678.1 614.1h0M682.0 651.9h0M689.4 647.2h0M685.6 608.5h0M681.3 639.1h0M676.9 577.2h0M677.0 563.1h0M676.6 664.6h0M678.0 571.5h0M687.9 617.0h0M678.8 604.9h0M678.2 625.4h0M678.1 551.7h0M682.0 610.4h0M684.0 618.1h0M685.7 606.6h0M681.2 610.9h0M686.5 615.5h0M677.1 621.0h0M684.9 604.8h0M682.3 568.2h0M684.2 599.8h0M687.0 626.4h0M691.6 586.0h0M676.6 629.2h0M679.9 596.2h0M689.7 631.0h0M677.5 590.6h0M685.3 598.5h0M683.8 621.7h0M688.9 600.8h0M680.2 582.6h0M679.7 634.7h0M684.8 628.5h0M684.0 581.8h0M686.5 636.6h0M677.3 587.1h0M677.8 641.5h0M683.9 583.8h0M679.4 560.5h0M678.4 634.8h0M676.8 580.1h0M685.0 648.2h0M680.8 616.1h0M678.9 635.3h0M678.7 537.4h0M681.8 616.2h0M678.2 667.7h0M676.8 587.8h0M681.7 636.1h0M686.8 658.8h0M680.1 583.6h0M678.9 576.0h0M678.4 589.9h0M676.6 612.9h0M680.4 601.9h0M684.3 569.7h0M678.3 673.1h0M682.6 646.7h0M676.9 628.0h0M677.8 516.8h0M683.7 610.6h0M690.7 553.4h0M683.1 623.2h0M680.8 603.5h0M679.1 570.2h0M690.2 619.0h0M677.1 588.1h0M691.2 617.4h0M676.9 580.1h0M678.3 597.0h0M679.3 597.6h0M684.6 597.4h0M689.0 625.3h0M690.3 615.8h0M686.7 601.3h0M678.5 595.6h0M684.3 618.6h0M687.1 596.3h0M676.9 598.6h0M678.5 585.0h0M678.0 550.9h0M681.1 611.7h0M689.5 581.9h0M682.1 619.1h0M684.8 645.5h0M688.8 606.5h0M676.9 586.1h0M678.2 637.1h0M685.8 571.2h0M676.8 630.1h0M677.5 584.3h0M690.3 610.5h0M686.9 573.9h0M688.0 642.4h0M686.1 621.4h0M680.5 558.4h0M684.9 618.5h0M678.3 641.1h0M677.9 653.5h0M677.8 617.5h0M687.7 572.3h0M677.8 658.7h0M676.6 652.9h0M682.7 592.7h0M677.9 610.9h0M686.1 582.5h0M679.7 572.9h0M676.9 658.5h0M682.0 634.2h0M678.7 630.9h0M688.4 635.9h0M689.5 639.2h0M680.2 635.0h0M682.1 600.2h0M687.2 615.6h0M681.8 570.4h0M688.4 584.2h0M684.8 604.5h0M676.5 601.2h0M680.5 584.7h0M690.8 591.0h0M682.3 557.4h0M677.7 601.1h0M681.1 603.9h0M684.3 600.6h0M686.6 641.3h0M683.6 580.6h0M682.4 552.3h0M678.6 599.4h0M686.8 587.4h0M676.9 596.7h0M684.3 603.7h0M686.4 609.5h0M676.8 566.4h0M690.6 594.6h0M677.7 600.3h0M688.3 631.4h0M684.7 571.8h0M680.9 647.3h0M684.9 587.7h0M677.5 602.1h0M677.1 606.5h0M682.5 635.3h0M676.9 612.1h0M678.4 580.6h0M682.7 616.0h0M688.0 573.2h0M687.1 581.3h0M677.5 644.9h0M682.3 624.9h0M684.3 635.4h0M678.6 556.2h0M681.6 653.1h0M690.9 636.8h0M677.0 619.0h0M690.5 609.6h0M690.5 539.5h0M677.2 602.4h0M683.2 591.3h0M677.9 621.8h0M692.5 637.1h0M679.9 585.6h0M685.2 650.1h0M692.6 633.8h0M679.0 571.2h0M683.6 574.1h0M682.6 615.2h0M681.8 592.2h0M690.2 601.2h0M679.1 583.5h0M683.7 585.6h0M694.4 600.6h0M695.6 570.7h0M699.2 657.0h0M694.6 560.0h0M695.1 595.0h0M694.8 587.7h0M700.0 636.6h0M695.2 598.1h0M697.6 592.8h0M695.2 576.5h0M694.7 618.4h0M693.9 577.9h0M699.3 595.7h0M696.5 604.0h0M700.9 634.4h0M695.9 605.8h0M695.8 582.7h0M696.2 655.8h0M699.1 584.0h0M694.9 582.3h0M694.7 586.1h0M696.0 588.5h0M694.4 589.8h0M693.8 580.0h0M696.6 656.8h0M700.2 556.8h0M697.7 609.0h0M694.3 554.4h0M699.3 594.6h0M696.8 612.0h0M694.6 633.8h0M694.0 551.7h0M696.3 621.3h0M696.0 639.7h0M695.8 684.2h0M694.9 639.9h0M696.2 548.3h0M696.1 637.0h0M699.2 561.0h0M700.5 628.4h0M696.5 643.2h0M694.0 575.8h0M695.3 522.4h0M696.0 589.6h0M697.9 633.4h0M698.8 614.8h0M694.3 626.9h0M698.3 622.1h0M697.1 625.9h0M693.9 640.0h0M699.5 600.5h0M695.3 615.0h0M695.1 613.2h0M696.9 587.0h0M700.9 665.0h0M700.5 630.7h0M698.8 568.9h0M698.1 606.8h0M695.3 569.8h0M694.4 580.1h0M698.3 551.4h0M706.1 547.5h0M721.2 551.9h0M700.9 565.0h0M700.9 567.6h0M711.3 571.5h0M707.4 578.0h0M710.8 578.0h0M713.9 581.9h0M700.9 588.4h0M707.4 591.1h0M704.8 600.2h0M700.9 634.1h0M706.6 639.3h0M116.0 590.3h0" fill="none" stroke="#00f" stroke-width="3.3" stroke-linecap="round"/>
<circle cx="156.5" cy="519.5" r="3.6" fill="#f00"/>
<circle cx="156.5" cy="555.5" r="3.6" fill="#00f"/>
<text x="174" y="524.2" font-size="18.85" stroke="#000" stroke-width="0.2">Total Sample</text>
<text x="174" y="561.4" font-size="18.85" stroke="#000" stroke-width="0.2">Within 3σ</text>
<text transform="translate(105.8,530.7) scale(0.931,1)" font-size="30.8" text-anchor="end">0.4</text>
<text transform="translate(105.8,565.9) scale(0.931,1)" font-size="30.8" text-anchor="end">0.2</text>
<text transform="translate(105.8,601.1) scale(0.931,1)" font-size="30.8" text-anchor="end">0</text>
<text transform="translate(105.8,636.3) scale(0.931,1)" font-size="30.8" text-anchor="end">-0.2</text>
<text transform="translate(105.8,671.5) scale(0.931,1)" font-size="30.8" text-anchor="end">-0.4</text>
<text transform="translate(158.7,713.9) scale(0.908,1)" font-size="30.6" text-anchor="middle">14</text>
<text transform="translate(331.4,713.9) scale(0.908,1)" font-size="30.6" text-anchor="middle">16</text>
<text transform="translate(504.0,713.9) scale(0.908,1)" font-size="30.6" text-anchor="middle">18</text>
<text transform="translate(675.9,713.9) scale(0.908,1)" font-size="30.6" text-anchor="middle">20</text>
<g transform="translate(26.2,618.5) rotate(-90)">
<text transform="translate(0.2,0.0) scale(1.05,1)" font-size="24.8">Δ</text>
<text transform="translate(24.6,0.0) scale(1.1,1)" font-size="26">z</text>
<text x="39.0" y="8.0" font-size="18.0">psf</text>
</g>
<text x="378.0" y="752.0" font-size="32">&lt;</text>
<text transform="translate(397.6,753.0) scale(1.17,1)" font-size="32">z</text>
<text x="415.2" y="764.9" font-size="21.8">psf</text>
<text transform="translate(447.8,752.0) scale(1.03,1)" font-size="32">&gt;</text>
</svg></body></html>
